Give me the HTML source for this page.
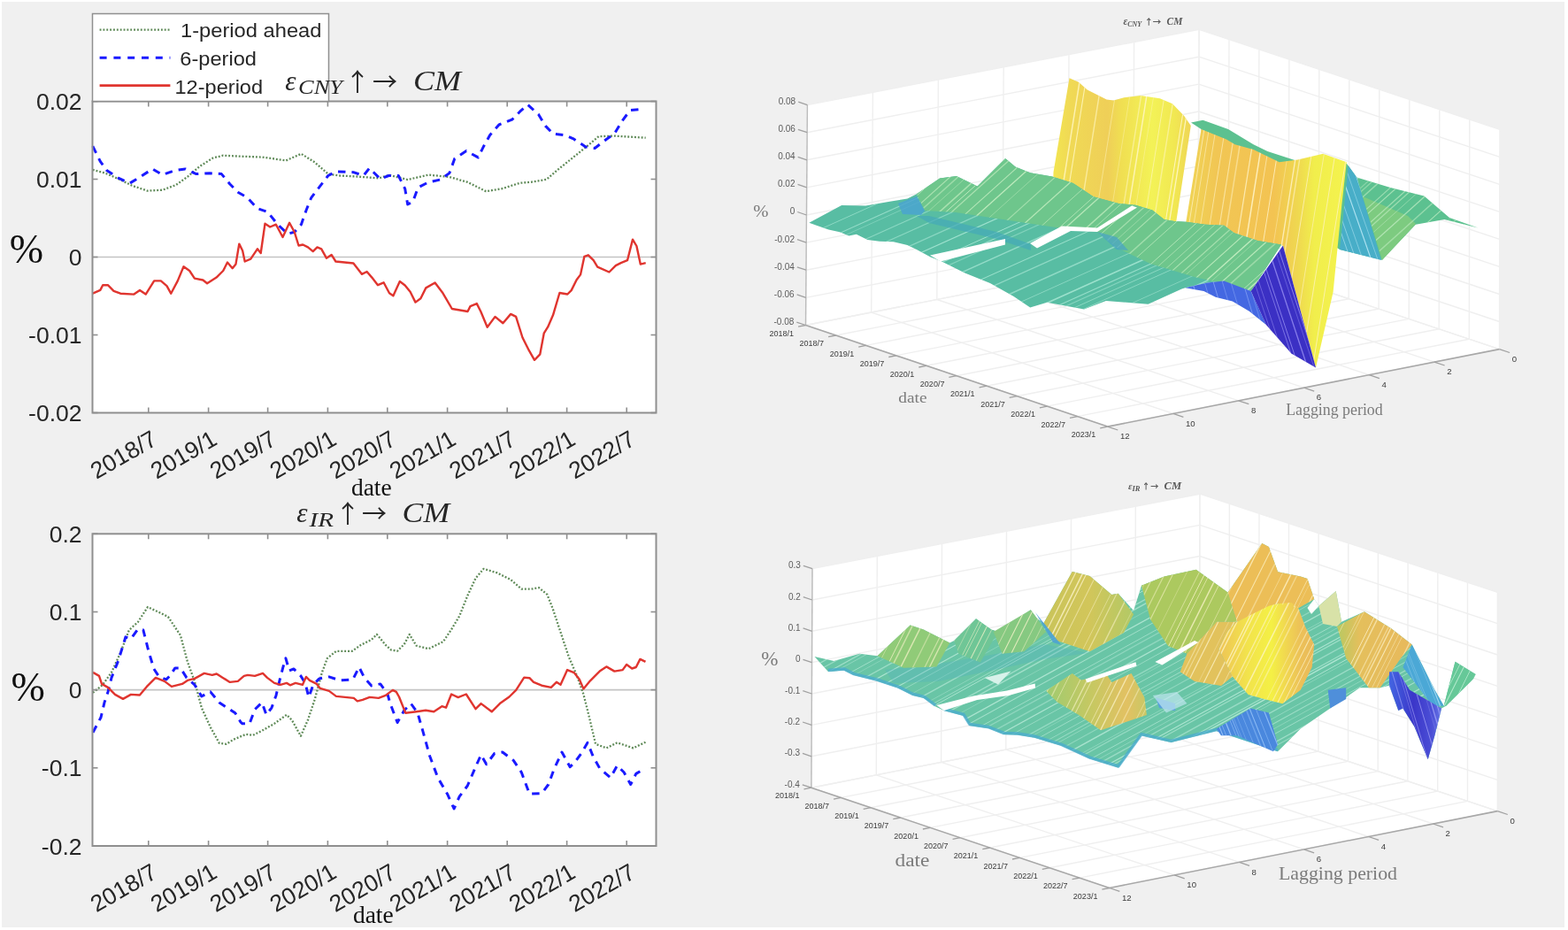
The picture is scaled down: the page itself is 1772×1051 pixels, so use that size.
<!DOCTYPE html><html><head><meta charset="utf-8"><title>Impulse responses</title><style>html,body{margin:0;padding:0;background:#fff;}svg{display:block;}.tk{font-family:"Liberation Sans",Arial,sans-serif;fill:#262626;}.sr{font-family:"Liberation Serif","Times New Roman",serif;}</style></head><body>
<svg width="1772" height="1051" viewBox="0 0 1772 1051">
<rect x="0" y="0" width="1772" height="1051" fill="#ffffff"/>
<rect x="2" y="2" width="1766" height="1046" fill="#f0f0f0"/>
<rect x="104.5" y="114.5" width="637.0" height="352.0" fill="#fff"/>
<line x1="104.5" y1="290.5" x2="741.5" y2="290.5" stroke="#c4c4c4" stroke-width="1.6"/>
<polyline points="104.8,191.9 119.0,195.7 134.2,202.3 149.5,209.9 166.6,215.6 183.7,214.7 198.9,209.0 212.3,199.5 225.6,188.0 240.8,178.5 252.2,175.7 270.0,176.6 296.6,177.6 323.3,181.4 340.4,173.8 355.6,183.3 370.8,196.6 384.2,198.5 403.2,199.5 427.9,201.4 440.0,197.9 460.7,203.0 484.3,197.6 507.9,200.0 528.5,205.9 549.2,216.2 566.9,213.3 587.5,206.8 600.0,205.8 617.7,202.8 629.5,192.5 644.2,180.7 658.9,168.9 676.6,154.2 694.3,153.6 729.7,155.7" fill="none" stroke="#5f8a58" stroke-width="2.3" stroke-dasharray="1.9 1.95" stroke-linejoin="round"/>
<polyline points="104.8,165.2 113.3,182.3 120.9,192.8 134.2,201.4 146.6,207.1 159.0,199.5 172.3,190.9 183.7,197.6 197.0,192.8 209.4,190.9 221.8,196.6 237.0,195.7 250.3,196.6 259.8,208.0 269.3,217.5 279.5,223.3 290.9,235.6 302.3,239.4 313.8,253.7 325.2,264.2 332.8,262.3 340.4,253.7 346.1,237.5 351.8,223.3 361.3,210.9 370.8,198.5 380.3,193.8 399.4,194.7 410.8,198.5 417.5,190.0 422.2,194.7 429.8,202.3 439.3,198.5 450.3,198.5 457.7,213.3 460.7,231.0 466.6,228.0 472.5,211.8 484.3,205.9 497.5,203.0 507.9,195.6 513.8,179.3 527.0,170.5 540.3,177.9 546.2,166.1 553.6,152.8 563.9,141.0 578.7,135.1 587.5,126.2 596.4,118.3 608.5,129.2 616.5,142.4 625.0,151.3 638.3,152.7 648.6,157.2 661.9,166.0 672.2,167.5 685.5,157.2 694.3,151.3 703.2,136.5 712.0,124.7 726.7,123.3" fill="none" stroke="#1a1aff" stroke-width="3" stroke-dasharray="8.5 7" stroke-linejoin="round"/>
<polyline points="104.8,331.7 113.3,327.9 116.2,322.2 121.9,322.2 128.5,328.8 136.1,331.7 151.4,332.6 158.0,327.9 164.7,332.6 174.2,317.4 181.8,317.4 188.5,323.1 193.2,331.7 200.8,317.4 207.5,301.3 214.2,306.0 219.9,314.6 229.4,316.5 234.1,320.3 244.6,313.6 252.2,306.0 257.0,296.5 262.7,303.2 266.5,298.4 270.3,275.6 274.1,283.2 276.7,295.5 283.3,292.7 290.9,281.3 294.7,286.0 299.5,252.7 305.2,256.5 311.9,253.7 319.5,268.0 327.1,251.8 332.8,262.3 337.5,277.5 342.3,276.5 348.0,279.4 353.7,284.1 358.5,279.4 363.2,281.3 368.9,291.7 374.6,287.9 379.4,295.5 399.4,297.5 408.9,309.8 414.6,307.0 420.3,313.6 427.0,322.2 433.6,319.3 440.0,331.3 444.4,334.3 451.8,318.0 457.7,322.5 463.6,329.8 469.5,341.6 475.4,337.2 481.3,325.4 491.6,319.5 500.5,331.3 510.8,349.0 519.7,350.5 528.5,352.0 531.5,346.1 538.8,343.1 543.3,352.0 550.7,369.7 559.5,357.9 568.4,365.2 577.2,354.9 583.1,357.9 590.5,381.5 597.9,396.2 604.0,406.8 610.3,400.3 614.7,376.7 619.2,369.4 625.0,356.1 632.4,331.0 641.3,332.5 645.7,328.1 651.6,316.3 656.0,310.4 660.4,289.8 664.8,288.3 670.7,294.2 675.2,301.6 688.4,307.5 695.8,300.1 701.7,297.1 709.0,294.2 715.0,270.6 719.4,278.0 723.8,298.6 729.7,297.1" fill="none" stroke="#e0352f" stroke-width="2.4" stroke-linejoin="round"/>
<line x1="167.8" y1="466.5" x2="167.8" y2="460.5" stroke="#8f8f8f" stroke-width="1.6"/>
<line x1="167.8" y1="114.5" x2="167.8" y2="120.5" stroke="#8f8f8f" stroke-width="1.6"/>
<line x1="235.6" y1="466.5" x2="235.6" y2="460.5" stroke="#8f8f8f" stroke-width="1.6"/>
<line x1="235.6" y1="114.5" x2="235.6" y2="120.5" stroke="#8f8f8f" stroke-width="1.6"/>
<line x1="302.6" y1="466.5" x2="302.6" y2="460.5" stroke="#8f8f8f" stroke-width="1.6"/>
<line x1="302.6" y1="114.5" x2="302.6" y2="120.5" stroke="#8f8f8f" stroke-width="1.6"/>
<line x1="370.4" y1="466.5" x2="370.4" y2="460.5" stroke="#8f8f8f" stroke-width="1.6"/>
<line x1="370.4" y1="114.5" x2="370.4" y2="120.5" stroke="#8f8f8f" stroke-width="1.6"/>
<line x1="437.8" y1="466.5" x2="437.8" y2="460.5" stroke="#8f8f8f" stroke-width="1.6"/>
<line x1="437.8" y1="114.5" x2="437.8" y2="120.5" stroke="#8f8f8f" stroke-width="1.6"/>
<line x1="505.6" y1="466.5" x2="505.6" y2="460.5" stroke="#8f8f8f" stroke-width="1.6"/>
<line x1="505.6" y1="114.5" x2="505.6" y2="120.5" stroke="#8f8f8f" stroke-width="1.6"/>
<line x1="573.2" y1="466.5" x2="573.2" y2="460.5" stroke="#8f8f8f" stroke-width="1.6"/>
<line x1="573.2" y1="114.5" x2="573.2" y2="120.5" stroke="#8f8f8f" stroke-width="1.6"/>
<line x1="640.6" y1="466.5" x2="640.6" y2="460.5" stroke="#8f8f8f" stroke-width="1.6"/>
<line x1="640.6" y1="114.5" x2="640.6" y2="120.5" stroke="#8f8f8f" stroke-width="1.6"/>
<line x1="708.2" y1="466.5" x2="708.2" y2="460.5" stroke="#8f8f8f" stroke-width="1.6"/>
<line x1="708.2" y1="114.5" x2="708.2" y2="120.5" stroke="#8f8f8f" stroke-width="1.6"/>
<line x1="104.5" y1="114.5" x2="110.5" y2="114.5" stroke="#8f8f8f" stroke-width="1.6"/>
<line x1="741.5" y1="114.5" x2="735.5" y2="114.5" stroke="#8f8f8f" stroke-width="1.6"/>
<text class="tk" x="92.5" y="124.0" font-size="26.5" text-anchor="end">0.02</text>
<line x1="104.5" y1="202.5" x2="110.5" y2="202.5" stroke="#8f8f8f" stroke-width="1.6"/>
<line x1="741.5" y1="202.5" x2="735.5" y2="202.5" stroke="#8f8f8f" stroke-width="1.6"/>
<text class="tk" x="92.5" y="212.0" font-size="26.5" text-anchor="end">0.01</text>
<line x1="104.5" y1="290.5" x2="110.5" y2="290.5" stroke="#8f8f8f" stroke-width="1.6"/>
<line x1="741.5" y1="290.5" x2="735.5" y2="290.5" stroke="#8f8f8f" stroke-width="1.6"/>
<text class="tk" x="92.5" y="300.0" font-size="26.5" text-anchor="end">0</text>
<line x1="104.5" y1="378.5" x2="110.5" y2="378.5" stroke="#8f8f8f" stroke-width="1.6"/>
<line x1="741.5" y1="378.5" x2="735.5" y2="378.5" stroke="#8f8f8f" stroke-width="1.6"/>
<text class="tk" x="92.5" y="388.0" font-size="26.5" text-anchor="end">-0.01</text>
<line x1="104.5" y1="466.5" x2="110.5" y2="466.5" stroke="#8f8f8f" stroke-width="1.6"/>
<line x1="741.5" y1="466.5" x2="735.5" y2="466.5" stroke="#8f8f8f" stroke-width="1.6"/>
<text class="tk" x="92.5" y="476.0" font-size="26.5" text-anchor="end">-0.02</text>
<rect x="104.5" y="114.5" width="637.0" height="352.0" fill="none" stroke="#8f8f8f" stroke-width="2"/>
<text class="tk" font-size="26.5" text-anchor="end" transform="translate(179.3,501.5) rotate(-30)">2018/7</text>
<text class="tk" font-size="26.5" text-anchor="end" transform="translate(247.1,501.5) rotate(-30)">2019/1</text>
<text class="tk" font-size="26.5" text-anchor="end" transform="translate(314.1,501.5) rotate(-30)">2019/7</text>
<text class="tk" font-size="26.5" text-anchor="end" transform="translate(381.9,501.5) rotate(-30)">2020/1</text>
<text class="tk" font-size="26.5" text-anchor="end" transform="translate(449.3,501.5) rotate(-30)">2020/7</text>
<text class="tk" font-size="26.5" text-anchor="end" transform="translate(517.1,501.5) rotate(-30)">2021/1</text>
<text class="tk" font-size="26.5" text-anchor="end" transform="translate(584.7,501.5) rotate(-30)">2021/7</text>
<text class="tk" font-size="26.5" text-anchor="end" transform="translate(652.1,501.5) rotate(-30)">2022/1</text>
<text class="tk" font-size="26.5" text-anchor="end" transform="translate(719.7,501.5) rotate(-30)">2022/7</text>
<text class="sr" x="419.8" y="559.8" font-size="27.5" text-anchor="middle" fill="#111">date</text>
<text class="sr" x="29.8" y="297.3" font-size="46" text-anchor="middle" fill="#111">%</text>
<rect x="104.5" y="603.3" width="637.0" height="352.70000000000005" fill="#fff"/>
<line x1="104.5" y1="779.65" x2="741.5" y2="779.65" stroke="#c4c4c4" stroke-width="1.6"/>
<polyline points="105.0,782.9 116.0,773.9 126.0,759.9 136.0,737.9 145.9,712.0 155.9,703.0 166.9,686.0 179.9,692.0 189.9,697.0 203.9,717.9 211.9,747.9 219.9,769.9 227.8,799.8 237.8,821.8 247.8,839.8 255.8,840.8 263.8,835.8 278.0,829.8 286.0,830.8 296.0,825.8 310.0,817.8 323.9,807.8 329.9,813.8 339.9,831.8 347.9,813.8 355.9,789.9 363.9,759.9 369.9,743.9 379.9,735.9 397.8,735.9 407.8,728.9 419.8,722.9 425.8,716.9 435.8,728.9 442.0,734.5 449.1,735.7 456.8,728.1 462.8,716.9 470.5,729.7 484.2,733.3 500.9,725.1 510.1,711.4 519.2,696.2 528.3,673.3 537.5,653.5 546.6,642.8 561.8,647.4 577.1,655.0 589.3,665.7 600.0,665.7 609.1,664.2 618.3,671.8 624.4,687.0 633.5,714.4 642.6,741.8 651.8,763.2 659.4,784.5 665.5,808.9 673.1,840.8 685.3,845.4 697.5,839.3 715.7,845.4 729.5,838.7" fill="none" stroke="#5f8a58" stroke-width="2.3" stroke-dasharray="1.9 1.95" stroke-linejoin="round"/>
<polyline points="105.0,827.8 114.0,810.8 118.0,793.9 122.0,781.9 126.0,765.9 134.0,745.9 141.9,719.9 147.9,721.9 155.9,711.0 161.9,712.0 167.9,735.9 173.9,755.9 179.9,764.9 187.9,767.9 191.9,763.9 197.9,754.9 203.9,754.9 210.9,765.9 219.9,773.9 227.8,786.9 237.8,781.9 247.8,793.9 265.8,805.8 271.8,815.8 274.0,817.8 282.0,817.8 288.0,801.8 296.0,793.9 301.0,807.8 307.0,799.8 312.0,785.9 316.0,768.9 319.9,753.9 322.9,743.9 326.9,757.9 331.9,755.9 339.9,763.9 344.9,771.9 348.9,787.9 353.9,773.9 360.9,766.9 371.9,764.9 383.9,768.9 398.8,767.9 405.8,753.9 411.8,765.9 419.8,774.9 429.8,772.9 437.8,783.9 441.0,795.1 449.1,816.5 456.8,802.8 464.4,795.1 472.0,805.8 478.1,827.1 485.7,854.5 494.8,878.9 505.5,897.2 513.1,913.9 519.2,900.2 528.3,888.0 537.5,866.7 543.6,853.0 549.7,863.7 558.8,851.5 567.9,850.0 580.1,859.1 589.3,872.8 598.4,897.2 612.2,896.6 619.8,886.5 625.9,869.8 635.0,850.0 644.2,866.7 650.3,860.6 657.9,850.0 664.0,839.3 670.1,854.5 677.7,868.2 689.9,878.9 697.5,865.2 705.1,872.8 712.7,886.5 718.8,874.4 726.4,869.8" fill="none" stroke="#1a1aff" stroke-width="3" stroke-dasharray="8.5 7" stroke-linejoin="round"/>
<polyline points="105.0,759.9 112.0,763.9 115.0,772.9 122.0,776.9 130.0,784.9 139.0,789.9 147.9,784.9 157.9,785.5 165.9,775.9 175.9,765.9 185.9,769.9 193.9,775.9 205.9,772.9 211.9,768.9 219.9,766.9 230.8,760.9 239.8,762.9 244.8,761.5 251.8,765.9 259.8,770.9 268.8,769.9 275.8,763.9 280.0,762.9 288.0,763.9 297.0,760.9 302.0,765.9 310.0,771.9 316.9,773.9 323.9,771.9 327.9,774.3 333.9,771.9 341.9,773.9 345.9,764.9 349.9,768.9 357.9,772.9 361.9,777.9 371.9,780.9 379.9,786.9 389.9,787.9 399.8,788.9 403.8,792.3 409.8,790.9 417.8,787.9 427.8,788.9 435.8,785.9 443.8,779.9 447.8,781.9 451.0,787.5 458.3,805.8 470.5,804.3 481.1,802.8 490.3,804.3 499.4,798.2 504.0,799.7 510.1,784.5 517.7,788.1 526.8,784.5 537.5,801.2 543.6,795.1 555.7,804.3 564.9,795.1 575.5,787.5 583.2,779.9 592.3,765.6 598.4,766.2 603.0,770.8 612.2,774.7 622.8,776.9 628.9,770.8 633.5,773.8 641.1,757.1 648.7,760.1 654.8,767.7 659.4,778.4 667.0,769.3 677.7,758.6 685.3,753.4 694.4,758.6 703.6,757.1 708.1,751.0 714.2,755.5 718.8,754.0 723.4,744.9 729.5,747.9" fill="none" stroke="#e0352f" stroke-width="2.4" stroke-linejoin="round"/>
<line x1="167.8" y1="956.0" x2="167.8" y2="950.0" stroke="#8f8f8f" stroke-width="1.6"/>
<line x1="167.8" y1="603.3" x2="167.8" y2="609.3" stroke="#8f8f8f" stroke-width="1.6"/>
<line x1="235.6" y1="956.0" x2="235.6" y2="950.0" stroke="#8f8f8f" stroke-width="1.6"/>
<line x1="235.6" y1="603.3" x2="235.6" y2="609.3" stroke="#8f8f8f" stroke-width="1.6"/>
<line x1="302.6" y1="956.0" x2="302.6" y2="950.0" stroke="#8f8f8f" stroke-width="1.6"/>
<line x1="302.6" y1="603.3" x2="302.6" y2="609.3" stroke="#8f8f8f" stroke-width="1.6"/>
<line x1="370.4" y1="956.0" x2="370.4" y2="950.0" stroke="#8f8f8f" stroke-width="1.6"/>
<line x1="370.4" y1="603.3" x2="370.4" y2="609.3" stroke="#8f8f8f" stroke-width="1.6"/>
<line x1="437.8" y1="956.0" x2="437.8" y2="950.0" stroke="#8f8f8f" stroke-width="1.6"/>
<line x1="437.8" y1="603.3" x2="437.8" y2="609.3" stroke="#8f8f8f" stroke-width="1.6"/>
<line x1="505.6" y1="956.0" x2="505.6" y2="950.0" stroke="#8f8f8f" stroke-width="1.6"/>
<line x1="505.6" y1="603.3" x2="505.6" y2="609.3" stroke="#8f8f8f" stroke-width="1.6"/>
<line x1="573.2" y1="956.0" x2="573.2" y2="950.0" stroke="#8f8f8f" stroke-width="1.6"/>
<line x1="573.2" y1="603.3" x2="573.2" y2="609.3" stroke="#8f8f8f" stroke-width="1.6"/>
<line x1="640.6" y1="956.0" x2="640.6" y2="950.0" stroke="#8f8f8f" stroke-width="1.6"/>
<line x1="640.6" y1="603.3" x2="640.6" y2="609.3" stroke="#8f8f8f" stroke-width="1.6"/>
<line x1="708.2" y1="956.0" x2="708.2" y2="950.0" stroke="#8f8f8f" stroke-width="1.6"/>
<line x1="708.2" y1="603.3" x2="708.2" y2="609.3" stroke="#8f8f8f" stroke-width="1.6"/>
<line x1="104.5" y1="603.3" x2="110.5" y2="603.3" stroke="#8f8f8f" stroke-width="1.6"/>
<line x1="741.5" y1="603.3" x2="735.5" y2="603.3" stroke="#8f8f8f" stroke-width="1.6"/>
<text class="tk" x="92.5" y="612.8" font-size="26.5" text-anchor="end">0.2</text>
<line x1="104.5" y1="691.5" x2="110.5" y2="691.5" stroke="#8f8f8f" stroke-width="1.6"/>
<line x1="741.5" y1="691.5" x2="735.5" y2="691.5" stroke="#8f8f8f" stroke-width="1.6"/>
<text class="tk" x="92.5" y="701.0" font-size="26.5" text-anchor="end">0.1</text>
<line x1="104.5" y1="779.6" x2="110.5" y2="779.6" stroke="#8f8f8f" stroke-width="1.6"/>
<line x1="741.5" y1="779.6" x2="735.5" y2="779.6" stroke="#8f8f8f" stroke-width="1.6"/>
<text class="tk" x="92.5" y="789.1" font-size="26.5" text-anchor="end">0</text>
<line x1="104.5" y1="867.8" x2="110.5" y2="867.8" stroke="#8f8f8f" stroke-width="1.6"/>
<line x1="741.5" y1="867.8" x2="735.5" y2="867.8" stroke="#8f8f8f" stroke-width="1.6"/>
<text class="tk" x="92.5" y="877.3" font-size="26.5" text-anchor="end">-0.1</text>
<line x1="104.5" y1="956.0" x2="110.5" y2="956.0" stroke="#8f8f8f" stroke-width="1.6"/>
<line x1="741.5" y1="956.0" x2="735.5" y2="956.0" stroke="#8f8f8f" stroke-width="1.6"/>
<text class="tk" x="92.5" y="965.5" font-size="26.5" text-anchor="end">-0.2</text>
<rect x="104.5" y="603.3" width="637.0" height="352.70000000000005" fill="none" stroke="#8f8f8f" stroke-width="2"/>
<text class="tk" font-size="26.5" text-anchor="end" transform="translate(179.3,991.0) rotate(-30)">2018/7</text>
<text class="tk" font-size="26.5" text-anchor="end" transform="translate(247.1,991.0) rotate(-30)">2019/1</text>
<text class="tk" font-size="26.5" text-anchor="end" transform="translate(314.1,991.0) rotate(-30)">2019/7</text>
<text class="tk" font-size="26.5" text-anchor="end" transform="translate(381.9,991.0) rotate(-30)">2020/1</text>
<text class="tk" font-size="26.5" text-anchor="end" transform="translate(449.3,991.0) rotate(-30)">2020/7</text>
<text class="tk" font-size="26.5" text-anchor="end" transform="translate(517.1,991.0) rotate(-30)">2021/1</text>
<text class="tk" font-size="26.5" text-anchor="end" transform="translate(584.7,991.0) rotate(-30)">2021/7</text>
<text class="tk" font-size="26.5" text-anchor="end" transform="translate(652.1,991.0) rotate(-30)">2022/1</text>
<text class="tk" font-size="26.5" text-anchor="end" transform="translate(719.7,991.0) rotate(-30)">2022/7</text>
<text class="sr" x="421.8" y="1043" font-size="27.5" text-anchor="middle" fill="#111">date</text>
<text class="sr" x="31.6" y="791.6" font-size="46" text-anchor="middle" fill="#111">%</text>
<rect x="104.5" y="15.5" width="267" height="99" fill="#fff" stroke="#8f8f8f" stroke-width="1.5"/>
<line x1="112.6" y1="33.7" x2="192.4" y2="33.7" stroke="#5f8a58" stroke-width="2.3" stroke-dasharray="1.9 1.95"/>
<line x1="112.6" y1="65.3" x2="192.4" y2="65.3" stroke="#1a1aff" stroke-width="3" stroke-dasharray="8 7.8"/>
<line x1="112.6" y1="96.6" x2="192.4" y2="96.6" stroke="#e0352f" stroke-width="2.6"/>
<text class="tk" x="204" y="42.4" font-size="22.6" textLength="159.5" lengthAdjust="spacingAndGlyphs">1-period ahead</text>
<text class="tk" x="203.3" y="74" font-size="22.6" textLength="86.6" lengthAdjust="spacingAndGlyphs">6-period</text>
<text class="tk" x="197.5" y="105.6" font-size="22.6" textLength="99.6" lengthAdjust="spacingAndGlyphs">12-period</text>
<text x="322.2" y="101.8" font-family='"Liberation Serif",serif' font-size="31" fill="#262626" font-style="italic">ε</text>
<text x="337" y="105.9" font-family='"Liberation Serif",serif' font-size="23.5" fill="#262626" font-style="italic" textLength="50" lengthAdjust="spacingAndGlyphs">CNY</text>
<text x="390" y="102.5" font-family='"Noto Sans CJK SC",sans-serif' font-size="28" fill="#262626">↑</text>
<text x="421" y="102.5" font-family='"Noto Sans CJK SC",sans-serif' font-size="28" fill="#262626">→</text>
<text x="467" y="101.8" font-family='"Liberation Serif",serif' font-size="31.5" fill="#262626" font-style="italic" textLength="54" lengthAdjust="spacingAndGlyphs">CM</text>
<text x="335.3" y="589.8" font-family='"Liberation Serif",serif' font-size="31" fill="#262626" font-style="italic">ε</text>
<text x="349.5" y="594.7" font-family='"Liberation Serif",serif' font-size="23.5" fill="#262626" font-style="italic" textLength="27.5" lengthAdjust="spacingAndGlyphs">IR</text>
<text x="379" y="591.3" font-family='"Noto Sans CJK SC",sans-serif' font-size="28" fill="#262626">↑</text>
<text x="409" y="591.3" font-family='"Noto Sans CJK SC",sans-serif' font-size="28" fill="#262626">→</text>
<text x="454.6" y="589.8" font-family='"Liberation Serif",serif' font-size="31.5" fill="#262626" font-style="italic" textLength="53.5" lengthAdjust="spacingAndGlyphs">CM</text>
<polygon points="910.5,367.5 912.4,118.6 1355.1,33.3 1354.0,280.8" fill="#fff"/>
<polygon points="1354.0,280.8 1355.1,33.3 1694.9,146.3 1694.5,394.6" fill="#fff"/>
<polygon points="910.5,367.5 1354.0,280.8 1694.5,394.6 1251.7,482.1" fill="#fff"/>
<line x1="910.5" y1="367.5" x2="1354.0" y2="280.8" stroke="#efefef" stroke-width="1.4"/>
<line x1="1354.0" y1="280.8" x2="1694.5" y2="394.6" stroke="#efefef" stroke-width="1.4"/>
<line x1="910.8" y1="336.4" x2="1354.1" y2="249.8" stroke="#efefef" stroke-width="1.4"/>
<line x1="1354.1" y1="249.8" x2="1694.5" y2="363.5" stroke="#efefef" stroke-width="1.4"/>
<line x1="911.0" y1="305.2" x2="1354.3" y2="218.8" stroke="#efefef" stroke-width="1.4"/>
<line x1="1354.3" y1="218.8" x2="1694.6" y2="332.5" stroke="#efefef" stroke-width="1.4"/>
<line x1="911.2" y1="274.1" x2="1354.4" y2="187.9" stroke="#efefef" stroke-width="1.4"/>
<line x1="1354.4" y1="187.9" x2="1694.6" y2="301.4" stroke="#efefef" stroke-width="1.4"/>
<line x1="911.4" y1="243.0" x2="1354.5" y2="156.9" stroke="#efefef" stroke-width="1.4"/>
<line x1="1354.5" y1="156.9" x2="1694.7" y2="270.4" stroke="#efefef" stroke-width="1.4"/>
<line x1="911.7" y1="211.9" x2="1354.7" y2="126.0" stroke="#efefef" stroke-width="1.4"/>
<line x1="1354.7" y1="126.0" x2="1694.7" y2="239.3" stroke="#efefef" stroke-width="1.4"/>
<line x1="911.9" y1="180.8" x2="1354.8" y2="95.1" stroke="#efefef" stroke-width="1.4"/>
<line x1="1354.8" y1="95.1" x2="1694.8" y2="208.3" stroke="#efefef" stroke-width="1.4"/>
<line x1="912.1" y1="149.7" x2="1354.9" y2="64.2" stroke="#efefef" stroke-width="1.4"/>
<line x1="1354.9" y1="64.2" x2="1694.8" y2="177.3" stroke="#efefef" stroke-width="1.4"/>
<line x1="912.4" y1="118.6" x2="1355.1" y2="33.3" stroke="#efefef" stroke-width="1.4"/>
<line x1="1355.1" y1="33.3" x2="1694.9" y2="146.3" stroke="#efefef" stroke-width="1.4"/>
<line x1="1354.0" y1="280.8" x2="1355.1" y2="33.3" stroke="#efefef" stroke-width="1.4"/>
<line x1="1354.0" y1="280.8" x2="910.5" y2="367.5" stroke="#efefef" stroke-width="1.4"/>
<line x1="1388.0" y1="292.2" x2="1389.0" y2="44.5" stroke="#efefef" stroke-width="1.4"/>
<line x1="1388.0" y1="292.2" x2="944.6" y2="379.0" stroke="#efefef" stroke-width="1.4"/>
<line x1="1422.0" y1="303.5" x2="1422.9" y2="55.8" stroke="#efefef" stroke-width="1.4"/>
<line x1="1422.0" y1="303.5" x2="978.6" y2="390.4" stroke="#efefef" stroke-width="1.4"/>
<line x1="1456.0" y1="314.9" x2="1456.9" y2="67.1" stroke="#efefef" stroke-width="1.4"/>
<line x1="1456.0" y1="314.9" x2="1012.7" y2="401.8" stroke="#efefef" stroke-width="1.4"/>
<line x1="1490.0" y1="326.3" x2="1490.8" y2="78.4" stroke="#efefef" stroke-width="1.4"/>
<line x1="1490.0" y1="326.3" x2="1046.8" y2="413.3" stroke="#efefef" stroke-width="1.4"/>
<line x1="1524.1" y1="337.7" x2="1524.8" y2="89.7" stroke="#efefef" stroke-width="1.4"/>
<line x1="1524.1" y1="337.7" x2="1080.9" y2="424.7" stroke="#efefef" stroke-width="1.4"/>
<line x1="1558.1" y1="349.0" x2="1558.8" y2="101.0" stroke="#efefef" stroke-width="1.4"/>
<line x1="1558.1" y1="349.0" x2="1115.0" y2="436.2" stroke="#efefef" stroke-width="1.4"/>
<line x1="1592.2" y1="360.4" x2="1592.8" y2="112.4" stroke="#efefef" stroke-width="1.4"/>
<line x1="1592.2" y1="360.4" x2="1149.2" y2="447.7" stroke="#efefef" stroke-width="1.4"/>
<line x1="1626.2" y1="371.8" x2="1626.8" y2="123.7" stroke="#efefef" stroke-width="1.4"/>
<line x1="1626.2" y1="371.8" x2="1183.3" y2="459.1" stroke="#efefef" stroke-width="1.4"/>
<line x1="1660.3" y1="383.2" x2="1660.8" y2="135.0" stroke="#efefef" stroke-width="1.4"/>
<line x1="1660.3" y1="383.2" x2="1217.5" y2="470.6" stroke="#efefef" stroke-width="1.4"/>
<line x1="1694.5" y1="394.6" x2="1694.9" y2="146.3" stroke="#efefef" stroke-width="1.4"/>
<line x1="1694.5" y1="394.6" x2="1251.7" y2="482.1" stroke="#efefef" stroke-width="1.4"/>
<line x1="1354.0" y1="280.8" x2="1355.1" y2="33.3" stroke="#efefef" stroke-width="1.4"/>
<line x1="1354.0" y1="280.8" x2="1694.5" y2="394.6" stroke="#efefef" stroke-width="1.4"/>
<line x1="1280.4" y1="295.2" x2="1281.6" y2="47.4" stroke="#efefef" stroke-width="1.4"/>
<line x1="1280.4" y1="295.2" x2="1621.0" y2="409.1" stroke="#efefef" stroke-width="1.4"/>
<line x1="1206.7" y1="309.6" x2="1208.0" y2="61.6" stroke="#efefef" stroke-width="1.4"/>
<line x1="1206.7" y1="309.6" x2="1547.3" y2="423.7" stroke="#efefef" stroke-width="1.4"/>
<line x1="1132.8" y1="324.1" x2="1134.2" y2="75.8" stroke="#efefef" stroke-width="1.4"/>
<line x1="1132.8" y1="324.1" x2="1473.6" y2="438.2" stroke="#efefef" stroke-width="1.4"/>
<line x1="1058.8" y1="338.5" x2="1060.4" y2="90.1" stroke="#efefef" stroke-width="1.4"/>
<line x1="1058.8" y1="338.5" x2="1399.7" y2="452.8" stroke="#efefef" stroke-width="1.4"/>
<line x1="984.7" y1="353.0" x2="986.4" y2="104.3" stroke="#efefef" stroke-width="1.4"/>
<line x1="984.7" y1="353.0" x2="1325.8" y2="467.4" stroke="#efefef" stroke-width="1.4"/>
<line x1="910.5" y1="367.5" x2="912.4" y2="118.6" stroke="#efefef" stroke-width="1.4"/>
<line x1="910.5" y1="367.5" x2="1251.7" y2="482.1" stroke="#efefef" stroke-width="1.4"/>
<defs><linearGradient id="yw1" x1="1189" y1="0" x2="1346" y2="0" gradientUnits="userSpaceOnUse"><stop offset="0" stop-color="#f3e650"/><stop offset="0.12" stop-color="#f0da55"/><stop offset="0.4" stop-color="#efcf58"/><stop offset="0.5" stop-color="#f0df52"/><stop offset="0.72" stop-color="#f3f257"/><stop offset="0.88" stop-color="#f1e852"/><stop offset="1" stop-color="#efd556"/></linearGradient><linearGradient id="yw2" x1="1338" y1="0" x2="1522" y2="0" gradientUnits="userSpaceOnUse"><stop offset="0" stop-color="#f0d655"/><stop offset="0.2" stop-color="#f1c654"/><stop offset="0.55" stop-color="#f3c352"/><stop offset="0.7" stop-color="#efd850"/><stop offset="0.8" stop-color="#f1ee4c"/><stop offset="1" stop-color="#f4f34e"/></linearGradient></defs>
<polygon points="1346.0,138.5 1359.4,135.7 1388.0,146.1 1416.5,163.3 1432.4,170.9 1464.7,181.4 1495.0,176.0 1522.0,185.0 1533.3,200.4 1571.3,211.9 1609.4,221.4 1638.0,246.1 1670.3,257.5 1632.3,248.0 1599.9,253.7 1561.8,293.7 1514.0,282.0 1480.0,260.0 1365.0,240.0 1357.5,146.1" fill="#5cc190" />
<polygon points="1540.0,222.0 1591.0,244.0 1600.0,253.0 1562.0,294.0" fill="#7dcb80" />
<clipPath id="c1"><polygon points="1533.0,200.0 1571.0,212.0 1609.0,221.0 1638.0,246.0 1670.0,257.5 1632.0,248.0 1600.0,254.0 1562.0,294.0"/></clipPath><g clip-path="url(#c1)" stroke="#c8f0c8" fill="none"><line x1="1425.4" y1="299.7" x2="1672.4" y2="77.4" stroke-width="1.14" stroke-opacity="0.51"/><line x1="1432.2" y1="307.3" x2="1679.2" y2="85.0" stroke-width="1.21" stroke-opacity="0.41"/><line x1="1434.5" y1="309.8" x2="1681.4" y2="87.5" stroke-width="1.40" stroke-opacity="0.47"/><line x1="1438.4" y1="314.1" x2="1685.4" y2="91.8" stroke-width="1.54" stroke-opacity="0.54"/><line x1="1447.1" y1="323.8" x2="1694.0" y2="101.5" stroke-width="1.08" stroke-opacity="0.60"/><line x1="1450.3" y1="327.4" x2="1697.3" y2="105.1" stroke-width="1.22" stroke-opacity="0.67"/><line x1="1456.5" y1="334.3" x2="1703.5" y2="112.0" stroke-width="1.31" stroke-opacity="0.61"/><line x1="1459.1" y1="337.2" x2="1706.1" y2="114.9" stroke-width="1.33" stroke-opacity="0.58"/><line x1="1463.6" y1="342.2" x2="1710.6" y2="119.9" stroke-width="0.69" stroke-opacity="0.67"/><line x1="1469.4" y1="348.6" x2="1716.4" y2="126.3" stroke-width="1.29" stroke-opacity="0.68"/><line x1="1477.1" y1="357.2" x2="1724.1" y2="134.9" stroke-width="1.47" stroke-opacity="0.52"/><line x1="1485.5" y1="366.5" x2="1732.5" y2="144.2" stroke-width="1.05" stroke-opacity="0.69"/><line x1="1494.5" y1="376.5" x2="1741.5" y2="154.2" stroke-width="0.75" stroke-opacity="0.43"/><line x1="1498.3" y1="380.7" x2="1745.3" y2="158.4" stroke-width="1.51" stroke-opacity="0.53"/><line x1="1505.3" y1="388.5" x2="1752.3" y2="166.2" stroke-width="0.92" stroke-opacity="0.55"/><line x1="1510.4" y1="394.2" x2="1757.4" y2="171.9" stroke-width="0.97" stroke-opacity="0.58"/><line x1="1517.1" y1="401.6" x2="1764.1" y2="179.3" stroke-width="1.46" stroke-opacity="0.61"/><line x1="1526.5" y1="412.0" x2="1773.5" y2="189.7" stroke-width="1.41" stroke-opacity="0.71"/></g>
<polygon points="1523.7,187.0 1533.3,200.4 1561.0,294.0 1514.0,282.0" fill="#48aec8" />
<clipPath id="c2"><polygon points="1523.7,187.0 1533.3,200.4 1561.0,294.0 1514.0,282.0"/></clipPath><g clip-path="url(#c2)" stroke="#d0f4ff" fill="none"><line x1="1535.2" y1="117.5" x2="1612.4" y2="338.1" stroke-width="0.68" stroke-opacity="0.56"/><line x1="1532.0" y1="118.6" x2="1609.3" y2="339.2" stroke-width="0.65" stroke-opacity="0.56"/><line x1="1523.3" y1="121.6" x2="1600.5" y2="342.3" stroke-width="1.24" stroke-opacity="0.70"/><line x1="1519.7" y1="122.9" x2="1596.9" y2="343.5" stroke-width="1.03" stroke-opacity="0.52"/><line x1="1516.4" y1="124.1" x2="1593.7" y2="344.7" stroke-width="0.68" stroke-opacity="0.50"/><line x1="1507.6" y1="127.1" x2="1584.8" y2="347.7" stroke-width="1.26" stroke-opacity="0.71"/><line x1="1499.8" y1="129.9" x2="1577.0" y2="350.5" stroke-width="0.75" stroke-opacity="0.53"/><line x1="1493.2" y1="132.2" x2="1570.4" y2="352.8" stroke-width="1.19" stroke-opacity="0.73"/><line x1="1484.7" y1="135.2" x2="1561.9" y2="355.8" stroke-width="0.67" stroke-opacity="0.64"/><line x1="1477.8" y1="137.6" x2="1555.0" y2="358.2" stroke-width="1.00" stroke-opacity="0.48"/><line x1="1472.3" y1="139.5" x2="1549.5" y2="360.1" stroke-width="0.67" stroke-opacity="0.76"/><line x1="1463.9" y1="142.4" x2="1541.2" y2="363.0" stroke-width="1.04" stroke-opacity="0.53"/></g>
<polygon points="1208.5,88.3 1218.9,92.7 1228.8,101.4 1250.6,112.4 1258.6,113.4 1270.3,110.2 1288.9,108.0 1310.8,111.3 1325.0,117.3 1338.2,131.0 1345.8,141.9 1329.0,252.0 1189.0,252.0 1190.5,194.4" fill="url(#yw1)" />
<clipPath id="c3"><polygon points="1208.5,88.3 1218.9,92.7 1228.8,101.4 1250.6,112.4 1258.6,113.4 1270.3,110.2 1288.9,108.0 1310.8,111.3 1325.0,117.3 1338.2,131.0 1345.8,141.9 1329.0,252.0 1189.0,252.0 1190.5,194.4"/></clipPath><g clip-path="url(#c3)" stroke="#fff6c0" fill="none"><line x1="1385.7" y1="-40.5" x2="1314.0" y2="407.2" stroke-width="1.31" stroke-opacity="0.88"/><line x1="1368.6" y1="-43.2" x2="1296.9" y2="404.4" stroke-width="1.31" stroke-opacity="0.94"/><line x1="1364.3" y1="-43.9" x2="1292.7" y2="403.8" stroke-width="1.07" stroke-opacity="0.95"/><line x1="1351.4" y1="-46.0" x2="1279.7" y2="401.7" stroke-width="1.45" stroke-opacity="0.58"/><line x1="1340.9" y1="-47.6" x2="1269.3" y2="400.0" stroke-width="0.88" stroke-opacity="0.77"/><line x1="1329.0" y1="-49.6" x2="1257.4" y2="398.1" stroke-width="0.67" stroke-opacity="0.62"/><line x1="1321.3" y1="-50.8" x2="1249.7" y2="396.9" stroke-width="1.47" stroke-opacity="0.87"/><line x1="1315.2" y1="-51.8" x2="1243.6" y2="395.9" stroke-width="1.36" stroke-opacity="0.59"/><line x1="1302.7" y1="-53.8" x2="1231.1" y2="393.9" stroke-width="0.77" stroke-opacity="0.53"/><line x1="1286.6" y1="-56.3" x2="1215.0" y2="391.3" stroke-width="0.84" stroke-opacity="0.62"/><line x1="1268.9" y1="-59.2" x2="1197.3" y2="388.5" stroke-width="1.43" stroke-opacity="0.66"/><line x1="1251.6" y1="-61.9" x2="1179.9" y2="385.7" stroke-width="1.13" stroke-opacity="0.83"/><line x1="1244.9" y1="-63.0" x2="1173.2" y2="384.6" stroke-width="1.49" stroke-opacity="0.84"/><line x1="1227.4" y1="-65.8" x2="1155.8" y2="381.9" stroke-width="1.45" stroke-opacity="0.66"/><line x1="1218.5" y1="-67.2" x2="1146.9" y2="380.4" stroke-width="0.81" stroke-opacity="0.59"/></g>
<polygon points="1357.5,146.1 1386.0,157.6 1395.6,163.3 1416.5,169.0 1445.7,183.3 1466.6,180.4 1495.2,173.8 1521.8,183.3 1516.5,230.0 1506.6,330.0 1487.0,415.6 1449.9,277.6 1338.5,262.0" fill="url(#yw2)" />
<clipPath id="c4"><polygon points="1357.5,146.1 1386.0,157.6 1395.6,163.3 1416.5,169.0 1445.7,183.3 1466.6,180.4 1495.2,173.8 1521.8,183.3 1516.5,230.0 1506.6,330.0 1487.0,415.6 1449.9,277.6 1338.5,262.0"/></clipPath><g clip-path="url(#c4)" stroke="#fff3c8" fill="none"><line x1="1584.2" y1="-24.6" x2="1481.2" y2="619.1" stroke-width="1.38" stroke-opacity="0.69"/><line x1="1577.4" y1="-25.7" x2="1474.4" y2="618.0" stroke-width="0.66" stroke-opacity="0.77"/><line x1="1567.9" y1="-27.2" x2="1464.9" y2="616.5" stroke-width="1.33" stroke-opacity="0.65"/><line x1="1554.5" y1="-29.3" x2="1451.6" y2="614.3" stroke-width="0.90" stroke-opacity="0.83"/><line x1="1541.7" y1="-31.4" x2="1438.7" y2="612.3" stroke-width="1.02" stroke-opacity="0.72"/><line x1="1529.5" y1="-33.3" x2="1426.5" y2="610.3" stroke-width="0.83" stroke-opacity="0.72"/><line x1="1515.7" y1="-35.5" x2="1412.7" y2="608.1" stroke-width="0.89" stroke-opacity="0.83"/><line x1="1503.5" y1="-37.5" x2="1400.5" y2="606.2" stroke-width="1.40" stroke-opacity="0.63"/><line x1="1498.8" y1="-38.2" x2="1395.8" y2="605.4" stroke-width="1.36" stroke-opacity="0.83"/><line x1="1489.6" y1="-39.7" x2="1386.6" y2="604.0" stroke-width="0.74" stroke-opacity="0.57"/><line x1="1478.0" y1="-41.6" x2="1375.0" y2="602.1" stroke-width="0.92" stroke-opacity="0.89"/><line x1="1467.0" y1="-43.3" x2="1364.0" y2="600.3" stroke-width="0.84" stroke-opacity="0.77"/><line x1="1458.9" y1="-44.6" x2="1356.0" y2="599.1" stroke-width="1.48" stroke-opacity="0.87"/><line x1="1448.9" y1="-46.2" x2="1345.9" y2="597.4" stroke-width="1.23" stroke-opacity="0.78"/><line x1="1435.1" y1="-48.4" x2="1332.1" y2="595.2" stroke-width="1.52" stroke-opacity="0.50"/><line x1="1427.0" y1="-49.7" x2="1324.0" y2="593.9" stroke-width="1.19" stroke-opacity="0.62"/><line x1="1416.0" y1="-51.5" x2="1313.0" y2="592.2" stroke-width="0.74" stroke-opacity="0.86"/><line x1="1405.8" y1="-53.1" x2="1302.8" y2="590.5" stroke-width="0.76" stroke-opacity="0.77"/><line x1="1398.3" y1="-54.3" x2="1295.3" y2="589.3" stroke-width="0.83" stroke-opacity="0.69"/><line x1="1393.1" y1="-55.2" x2="1290.1" y2="588.5" stroke-width="0.84" stroke-opacity="0.85"/><line x1="1380.7" y1="-57.1" x2="1277.7" y2="586.5" stroke-width="0.67" stroke-opacity="0.82"/><line x1="1377.0" y1="-57.7" x2="1274.0" y2="585.9" stroke-width="0.95" stroke-opacity="0.87"/></g>
<polygon points="914.4,251.8 951.1,231.9 978.3,232.4 1005.5,227.7 1025.4,224.5 1035.9,219.3 1062.0,201.5 1080.9,199.0 1104.6,210.4 1136.1,179.0 1147.5,188.6 1164.2,195.2 1189.0,199.4 1212.8,207.1 1235.7,222.3 1264.2,229.9 1283.3,231.8 1302.3,237.5 1315.6,248.0 1327.0,249.9 1340.4,250.8 1362.3,253.8 1383.3,254.7 1394.7,263.3 1421.3,271.9 1448.0,276.6 1413.7,329.0 1383.3,317.6 1364.2,319.5 1339.5,325.2 1335.5,326.6 1297.5,343.7 1249.9,339.9 1225.1,349.4 1183.3,341.8 1164.2,347.5 1145.6,335.1 1118.9,319.9 1090.4,308.5 1063.7,295.2 1051.6,290.5 1035.9,282.1 1025.4,276.9 1009.7,273.2 994.0,272.7 980.4,271.1 967.8,264.8 959.4,266.4 949.0,262.2 936.4,259.6" fill="#58bda3" />
<clipPath id="c5"><polygon points="914.4,251.8 951.1,231.9 978.3,232.4 1005.5,227.7 1025.4,224.5 1035.9,219.3 1062.0,201.5 1080.9,199.0 1104.6,210.4 1136.1,179.0 1147.5,188.6 1164.2,195.2 1189.0,199.4 1212.8,207.1 1235.7,222.3 1264.2,229.9 1283.3,231.8 1302.3,237.5 1315.6,248.0 1327.0,249.9 1340.4,250.8 1362.3,253.8 1383.3,254.7 1394.7,263.3 1421.3,271.9 1448.0,276.6 1413.7,329.0 1383.3,317.6 1364.2,319.5 1339.5,325.2 1335.5,326.6 1297.5,343.7 1249.9,339.9 1225.1,349.4 1183.3,341.8 1164.2,347.5 1145.6,335.1 1118.9,319.9 1090.4,308.5 1063.7,295.2 1051.6,290.5 1035.9,282.1 1025.4,276.9 1009.7,273.2 994.0,272.7 980.4,271.1 967.8,264.8 959.4,266.4 949.0,262.2 936.4,259.6"/></clipPath><g clip-path="url(#c5)" stroke="#b6eedd" fill="none"><line x1="595.0" y1="326.6" x2="1616.7" y2="-133.1" stroke-width="0.86" stroke-opacity="0.65"/><line x1="597.0" y1="331.1" x2="1618.7" y2="-128.7" stroke-width="1.23" stroke-opacity="0.55"/><line x1="599.0" y1="335.3" x2="1620.6" y2="-124.4" stroke-width="1.21" stroke-opacity="0.43"/><line x1="603.1" y1="344.5" x2="1624.7" y2="-115.2" stroke-width="0.79" stroke-opacity="0.45"/><line x1="607.2" y1="353.6" x2="1628.8" y2="-106.2" stroke-width="1.51" stroke-opacity="0.46"/><line x1="610.0" y1="360.0" x2="1631.7" y2="-99.8" stroke-width="1.32" stroke-opacity="0.76"/><line x1="615.0" y1="371.0" x2="1636.6" y2="-88.7" stroke-width="1.10" stroke-opacity="0.77"/><line x1="616.9" y1="375.1" x2="1638.5" y2="-84.6" stroke-width="1.54" stroke-opacity="0.52"/><line x1="619.3" y1="380.5" x2="1640.9" y2="-79.2" stroke-width="0.83" stroke-opacity="0.53"/><line x1="625.7" y1="394.7" x2="1647.3" y2="-65.1" stroke-width="0.89" stroke-opacity="0.63"/><line x1="631.0" y1="406.5" x2="1652.6" y2="-53.2" stroke-width="1.08" stroke-opacity="0.62"/><line x1="632.9" y1="410.8" x2="1654.6" y2="-48.9" stroke-width="0.78" stroke-opacity="0.49"/><line x1="638.5" y1="423.2" x2="1660.1" y2="-36.5" stroke-width="1.13" stroke-opacity="0.53"/><line x1="643.5" y1="434.4" x2="1665.2" y2="-25.3" stroke-width="1.16" stroke-opacity="0.53"/><line x1="649.8" y1="448.2" x2="1671.4" y2="-11.5" stroke-width="1.39" stroke-opacity="0.51"/><line x1="654.7" y1="459.3" x2="1676.3" y2="-0.5" stroke-width="1.22" stroke-opacity="0.74"/><line x1="660.6" y1="472.3" x2="1682.2" y2="12.5" stroke-width="1.00" stroke-opacity="0.77"/><line x1="662.9" y1="477.3" x2="1684.5" y2="17.6" stroke-width="1.12" stroke-opacity="0.69"/><line x1="665.3" y1="482.8" x2="1686.9" y2="23.1" stroke-width="1.19" stroke-opacity="0.43"/><line x1="670.8" y1="495.0" x2="1692.5" y2="35.3" stroke-width="1.45" stroke-opacity="0.63"/><line x1="677.5" y1="510.0" x2="1699.2" y2="50.2" stroke-width="1.02" stroke-opacity="0.67"/><line x1="682.6" y1="521.2" x2="1704.2" y2="61.5" stroke-width="1.28" stroke-opacity="0.58"/><line x1="689.1" y1="535.7" x2="1710.7" y2="76.0" stroke-width="1.63" stroke-opacity="0.59"/><line x1="694.6" y1="547.9" x2="1716.2" y2="88.1" stroke-width="0.78" stroke-opacity="0.67"/><line x1="700.0" y1="559.8" x2="1721.6" y2="100.1" stroke-width="1.67" stroke-opacity="0.72"/><line x1="703.2" y1="567.0" x2="1724.8" y2="107.3" stroke-width="1.09" stroke-opacity="0.66"/><line x1="704.9" y1="570.8" x2="1726.6" y2="111.1" stroke-width="1.16" stroke-opacity="0.48"/><line x1="707.2" y1="575.9" x2="1728.8" y2="116.2" stroke-width="0.78" stroke-opacity="0.70"/><line x1="709.5" y1="581.1" x2="1731.2" y2="121.4" stroke-width="0.96" stroke-opacity="0.56"/><line x1="716.2" y1="596.0" x2="1737.9" y2="136.2" stroke-width="0.80" stroke-opacity="0.58"/><line x1="721.0" y1="606.6" x2="1742.7" y2="146.9" stroke-width="1.57" stroke-opacity="0.71"/><line x1="727.7" y1="621.4" x2="1749.3" y2="161.7" stroke-width="0.99" stroke-opacity="0.57"/><line x1="731.4" y1="629.6" x2="1753.0" y2="169.9" stroke-width="1.57" stroke-opacity="0.76"/><line x1="733.8" y1="635.1" x2="1755.5" y2="175.3" stroke-width="0.89" stroke-opacity="0.50"/><line x1="736.8" y1="641.6" x2="1758.4" y2="181.9" stroke-width="1.19" stroke-opacity="0.63"/><line x1="739.9" y1="648.6" x2="1761.5" y2="188.8" stroke-width="0.72" stroke-opacity="0.57"/><line x1="743.7" y1="656.9" x2="1765.3" y2="197.2" stroke-width="1.26" stroke-opacity="0.76"/></g>
<polygon points="1035.9,219.3 1062.0,201.5 1080.9,199.0 1104.6,210.4 1136.1,179.0 1147.5,188.6 1164.2,195.2 1189.0,199.4 1212.8,207.1 1235.7,222.3 1264.2,229.9 1283.3,231.8 1302.3,237.5 1315.6,248.0 1327.0,249.9 1340.4,250.8 1362.3,253.8 1383.3,254.7 1394.7,263.3 1421.3,271.9 1448.0,276.6 1413.7,329.0 1380.0,320.0 1350.0,313.0 1300.0,298.0 1262.0,280.0 1240.0,262.0 1200.0,258.0 1160.0,252.0 1120.0,246.0 1080.0,240.0 1045.0,238.0" fill="#6ec68c" />
<clipPath id="c6"><polygon points="1035.9,219.3 1062.0,201.5 1080.9,199.0 1104.6,210.4 1136.1,179.0 1147.5,188.6 1164.2,195.2 1189.0,199.4 1212.8,207.1 1235.7,222.3 1264.2,229.9 1283.3,231.8 1302.3,237.5 1315.6,248.0 1327.0,249.9 1340.4,250.8 1362.3,253.8 1383.3,254.7 1394.7,263.3 1421.3,271.9 1448.0,276.6 1413.7,329.0 1380.0,320.0 1350.0,313.0 1300.0,298.0 1262.0,280.0 1240.0,262.0 1200.0,258.0 1160.0,252.0 1120.0,246.0 1080.0,240.0 1045.0,238.0"/></clipPath><g clip-path="url(#c6)" stroke="#d6f6cc" fill="none"><line x1="788.0" y1="405.2" x2="1439.9" y2="-181.6" stroke-width="1.64" stroke-opacity="0.47"/><line x1="796.5" y1="414.6" x2="1448.4" y2="-172.2" stroke-width="0.80" stroke-opacity="0.51"/><line x1="807.5" y1="426.8" x2="1459.4" y2="-159.9" stroke-width="0.92" stroke-opacity="0.65"/><line x1="813.8" y1="433.9" x2="1465.8" y2="-152.9" stroke-width="1.16" stroke-opacity="0.60"/><line x1="817.8" y1="438.3" x2="1469.8" y2="-148.4" stroke-width="1.52" stroke-opacity="0.45"/><line x1="822.2" y1="443.2" x2="1474.2" y2="-143.6" stroke-width="0.74" stroke-opacity="0.52"/><line x1="828.1" y1="449.7" x2="1480.0" y2="-137.0" stroke-width="1.59" stroke-opacity="0.56"/><line x1="831.4" y1="453.4" x2="1483.4" y2="-133.3" stroke-width="0.97" stroke-opacity="0.78"/><line x1="834.3" y1="456.6" x2="1486.3" y2="-130.1" stroke-width="1.32" stroke-opacity="0.56"/><line x1="842.4" y1="465.6" x2="1494.4" y2="-121.1" stroke-width="1.04" stroke-opacity="0.67"/><line x1="849.1" y1="473.0" x2="1501.0" y2="-113.7" stroke-width="1.34" stroke-opacity="0.74"/><line x1="856.5" y1="481.3" x2="1508.4" y2="-105.5" stroke-width="0.86" stroke-opacity="0.44"/><line x1="867.0" y1="493.0" x2="1519.0" y2="-93.7" stroke-width="1.19" stroke-opacity="0.49"/><line x1="877.6" y1="504.8" x2="1529.6" y2="-82.0" stroke-width="1.28" stroke-opacity="0.68"/><line x1="887.6" y1="515.9" x2="1539.6" y2="-70.9" stroke-width="0.99" stroke-opacity="0.55"/><line x1="897.6" y1="527.0" x2="1549.5" y2="-59.8" stroke-width="0.85" stroke-opacity="0.70"/><line x1="900.8" y1="530.5" x2="1552.7" y2="-56.3" stroke-width="1.38" stroke-opacity="0.67"/><line x1="911.4" y1="542.3" x2="1563.3" y2="-44.5" stroke-width="1.53" stroke-opacity="0.60"/><line x1="915.5" y1="546.8" x2="1567.4" y2="-40.0" stroke-width="0.86" stroke-opacity="0.61"/><line x1="922.2" y1="554.3" x2="1574.2" y2="-32.4" stroke-width="0.79" stroke-opacity="0.75"/><line x1="929.0" y1="561.8" x2="1580.9" y2="-24.9" stroke-width="1.39" stroke-opacity="0.50"/><line x1="933.4" y1="566.8" x2="1585.4" y2="-20.0" stroke-width="0.73" stroke-opacity="0.54"/><line x1="938.1" y1="572.0" x2="1590.0" y2="-14.8" stroke-width="1.13" stroke-opacity="0.56"/><line x1="947.7" y1="582.6" x2="1599.6" y2="-4.1" stroke-width="1.58" stroke-opacity="0.48"/><line x1="953.5" y1="589.1" x2="1605.4" y2="2.3" stroke-width="0.88" stroke-opacity="0.66"/><line x1="964.3" y1="601.1" x2="1616.3" y2="14.3" stroke-width="0.91" stroke-opacity="0.70"/><line x1="969.3" y1="606.6" x2="1621.2" y2="19.8" stroke-width="0.73" stroke-opacity="0.70"/><line x1="974.6" y1="612.5" x2="1626.5" y2="25.7" stroke-width="0.88" stroke-opacity="0.58"/><line x1="978.9" y1="617.3" x2="1630.9" y2="30.6" stroke-width="1.11" stroke-opacity="0.58"/><line x1="984.9" y1="624.0" x2="1636.9" y2="37.2" stroke-width="1.28" stroke-opacity="0.52"/><line x1="988.1" y1="627.5" x2="1640.0" y2="40.7" stroke-width="0.80" stroke-opacity="0.46"/><line x1="994.9" y1="635.1" x2="1646.9" y2="48.4" stroke-width="1.07" stroke-opacity="0.71"/><line x1="1001.7" y1="642.6" x2="1653.6" y2="55.8" stroke-width="1.40" stroke-opacity="0.77"/><line x1="1004.6" y1="645.8" x2="1656.5" y2="59.1" stroke-width="0.74" stroke-opacity="0.47"/><line x1="1010.3" y1="652.1" x2="1662.2" y2="65.4" stroke-width="1.27" stroke-opacity="0.69"/><line x1="1015.7" y1="658.1" x2="1667.6" y2="71.4" stroke-width="1.65" stroke-opacity="0.42"/><line x1="1025.3" y1="668.8" x2="1677.2" y2="82.1" stroke-width="0.92" stroke-opacity="0.74"/><line x1="1027.9" y1="671.7" x2="1679.8" y2="85.0" stroke-width="1.65" stroke-opacity="0.69"/><line x1="1038.9" y1="683.9" x2="1690.8" y2="97.2" stroke-width="1.28" stroke-opacity="0.48"/></g>
<polygon points="1050.0,244.0 1126.0,262.0 1165.0,276.0 1165.0,283.0 1126.0,270.0 1050.0,252.0 1036.0,244.0" fill="#45aab8" opacity="0.7"/>
<polygon points="1015.0,230.0 1036.0,222.0 1045.0,238.0 1041.0,243.0 1020.0,242.0" fill="#4aa2d2" opacity="0.8"/>
<polygon points="1240.0,262.0 1262.0,268.0 1275.0,283.0 1262.0,282.0" fill="#47a3c8" opacity="0.7"/>
<polygon points="1339.5,325.2 1364.2,319.5 1383.3,317.6 1413.7,329.0 1430.8,367.1 1411.8,351.8 1392.8,340.4 1373.7,335.7 1360.4,329.0" fill="#4468e2" />
<polygon points="1413.7,329.0 1449.9,277.6 1487.0,415.6 1459.4,399.4 1430.8,367.1" fill="#3b30c4" />
<clipPath id="c7"><polygon points="1413.7,329.0 1449.9,277.6 1487.0,415.6 1459.4,399.4 1430.8,367.1"/></clipPath><g clip-path="url(#c7)" stroke="#b0a8ff" fill="none"><line x1="1451.9" y1="181.5" x2="1549.8" y2="478.3" stroke-width="0.90" stroke-opacity="0.47"/><line x1="1442.1" y1="184.8" x2="1540.0" y2="481.6" stroke-width="0.61" stroke-opacity="0.60"/><line x1="1432.0" y1="188.1" x2="1529.9" y2="484.9" stroke-width="0.66" stroke-opacity="0.62"/><line x1="1424.3" y1="190.6" x2="1522.3" y2="487.4" stroke-width="0.63" stroke-opacity="0.56"/><line x1="1415.9" y1="193.4" x2="1513.9" y2="490.2" stroke-width="0.96" stroke-opacity="0.68"/><line x1="1412.2" y1="194.6" x2="1510.2" y2="491.4" stroke-width="0.79" stroke-opacity="0.46"/><line x1="1405.5" y1="196.8" x2="1503.5" y2="493.6" stroke-width="1.34" stroke-opacity="0.63"/><line x1="1396.5" y1="199.8" x2="1494.5" y2="496.6" stroke-width="0.91" stroke-opacity="0.69"/><line x1="1393.3" y1="200.9" x2="1491.3" y2="497.7" stroke-width="0.83" stroke-opacity="0.66"/><line x1="1384.7" y1="203.7" x2="1482.7" y2="500.5" stroke-width="0.94" stroke-opacity="0.45"/><line x1="1380.1" y1="205.2" x2="1478.0" y2="502.0" stroke-width="0.77" stroke-opacity="0.52"/><line x1="1370.8" y1="208.3" x2="1468.7" y2="505.1" stroke-width="0.76" stroke-opacity="0.74"/><line x1="1360.8" y1="211.6" x2="1458.8" y2="508.4" stroke-width="0.64" stroke-opacity="0.56"/><line x1="1354.3" y1="213.8" x2="1452.2" y2="510.5" stroke-width="0.62" stroke-opacity="0.57"/></g>
<clipPath id="c8"><polygon points="1339.5,325.2 1364.2,319.5 1383.3,317.6 1413.7,329.0 1430.8,367.1 1411.8,351.8 1392.8,340.4 1373.7,335.7 1360.4,329.0"/></clipPath><g clip-path="url(#c8)" stroke="#a8c0ff" fill="none"><line x1="1399.6" y1="229.6" x2="1459.3" y2="428.5" stroke-width="0.94" stroke-opacity="0.52"/><line x1="1394.9" y1="231.0" x2="1454.6" y2="430.0" stroke-width="1.25" stroke-opacity="0.60"/><line x1="1385.7" y1="233.8" x2="1445.4" y2="432.7" stroke-width="0.73" stroke-opacity="0.51"/><line x1="1379.7" y1="235.5" x2="1439.4" y2="434.5" stroke-width="0.80" stroke-opacity="0.64"/><line x1="1367.1" y1="239.3" x2="1426.8" y2="438.3" stroke-width="0.64" stroke-opacity="0.61"/><line x1="1358.4" y1="241.9" x2="1418.1" y2="440.9" stroke-width="0.91" stroke-opacity="0.44"/><line x1="1349.0" y1="244.8" x2="1408.7" y2="443.7" stroke-width="0.97" stroke-opacity="0.56"/><line x1="1339.8" y1="247.5" x2="1399.5" y2="446.5" stroke-width="0.71" stroke-opacity="0.58"/><line x1="1327.3" y1="251.3" x2="1387.0" y2="450.2" stroke-width="1.38" stroke-opacity="0.53"/><line x1="1324.2" y1="252.2" x2="1383.9" y2="451.2" stroke-width="0.60" stroke-opacity="0.39"/><line x1="1312.1" y1="255.8" x2="1371.8" y2="454.8" stroke-width="0.84" stroke-opacity="0.46"/></g>
<polygon points="1051.0,288.5 1136.0,270.0 1136.0,276.5 1063.0,295.5" fill="#fff" />
<polygon points="1164.0,275.0 1200.0,255.5 1240.0,257.5 1279.0,232.5 1285.0,234.5 1240.0,262.0 1210.0,261.0 1172.0,280.5" fill="#fff" />
<line x1="910.5" y1="367.5" x2="912.4" y2="118.6" stroke="#bcbcbc" stroke-width="1.4"/>
<line x1="910.5" y1="367.5" x2="1251.7" y2="482.1" stroke="#a8a8a8" stroke-width="1.6"/>
<line x1="1251.7" y1="482.1" x2="1694.5" y2="394.6" stroke="#a8a8a8" stroke-width="1.6"/>
<line x1="912.4" y1="118.6" x2="902.2" y2="115.2" stroke="#a0a0a0" stroke-width="1.3"/>
<text class="tk" x="899.2" y="118.1" font-size="10" text-anchor="end" style="fill:#5c5c5c">0.08</text>
<line x1="912.1" y1="149.7" x2="901.9" y2="146.3" stroke="#a0a0a0" stroke-width="1.3"/>
<text class="tk" x="898.9" y="149.2" font-size="10" text-anchor="end" style="fill:#5c5c5c">0.06</text>
<line x1="911.9" y1="180.8" x2="901.7" y2="177.4" stroke="#a0a0a0" stroke-width="1.3"/>
<text class="tk" x="898.7" y="180.3" font-size="10" text-anchor="end" style="fill:#5c5c5c">0.04</text>
<line x1="911.7" y1="211.9" x2="901.5" y2="208.4" stroke="#a0a0a0" stroke-width="1.3"/>
<text class="tk" x="898.5" y="211.3" font-size="10" text-anchor="end" style="fill:#5c5c5c">0.02</text>
<line x1="911.4" y1="243.0" x2="901.2" y2="239.5" stroke="#a0a0a0" stroke-width="1.3"/>
<text class="tk" x="898.2" y="242.4" font-size="10" text-anchor="end" style="fill:#5c5c5c">0</text>
<line x1="911.2" y1="274.1" x2="901.0" y2="270.7" stroke="#a0a0a0" stroke-width="1.3"/>
<text class="tk" x="898.0" y="273.6" font-size="10" text-anchor="end" style="fill:#5c5c5c">-0.02</text>
<line x1="911.0" y1="305.2" x2="900.8" y2="301.8" stroke="#a0a0a0" stroke-width="1.3"/>
<text class="tk" x="897.8" y="304.7" font-size="10" text-anchor="end" style="fill:#5c5c5c">-0.04</text>
<line x1="910.8" y1="336.4" x2="900.6" y2="332.9" stroke="#a0a0a0" stroke-width="1.3"/>
<text class="tk" x="897.6" y="335.8" font-size="10" text-anchor="end" style="fill:#5c5c5c">-0.06</text>
<line x1="910.5" y1="367.5" x2="900.3" y2="364.1" stroke="#a0a0a0" stroke-width="1.3"/>
<text class="tk" x="897.3" y="367.0" font-size="10" text-anchor="end" style="fill:#5c5c5c">-0.08</text>
<line x1="910.5" y1="367.5" x2="902.1" y2="369.2" stroke="#a0a0a0" stroke-width="1.3"/>
<text class="tk" x="897.1" y="379.7" font-size="9.0" text-anchor="end" style="fill:#3c3c3c">2018/1</text>
<line x1="944.6" y1="379.0" x2="936.1" y2="380.6" stroke="#a0a0a0" stroke-width="1.3"/>
<text class="tk" x="931.1" y="391.1" font-size="9.0" text-anchor="end" style="fill:#3c3c3c">2018/7</text>
<line x1="978.6" y1="390.4" x2="970.2" y2="392.1" stroke="#a0a0a0" stroke-width="1.3"/>
<text class="tk" x="965.2" y="402.6" font-size="9.0" text-anchor="end" style="fill:#3c3c3c">2019/1</text>
<line x1="1012.7" y1="401.8" x2="1004.3" y2="403.5" stroke="#a0a0a0" stroke-width="1.3"/>
<text class="tk" x="999.3" y="414.0" font-size="9.0" text-anchor="end" style="fill:#3c3c3c">2019/7</text>
<line x1="1046.8" y1="413.3" x2="1038.3" y2="415.0" stroke="#a0a0a0" stroke-width="1.3"/>
<text class="tk" x="1033.3" y="425.5" font-size="9.0" text-anchor="end" style="fill:#3c3c3c">2020/1</text>
<line x1="1080.9" y1="424.7" x2="1072.4" y2="426.4" stroke="#a0a0a0" stroke-width="1.3"/>
<text class="tk" x="1067.4" y="436.9" font-size="9.0" text-anchor="end" style="fill:#3c3c3c">2020/7</text>
<line x1="1115.0" y1="436.2" x2="1106.6" y2="437.9" stroke="#a0a0a0" stroke-width="1.3"/>
<text class="tk" x="1101.6" y="448.4" font-size="9.0" text-anchor="end" style="fill:#3c3c3c">2021/1</text>
<line x1="1149.2" y1="447.7" x2="1140.7" y2="449.3" stroke="#a0a0a0" stroke-width="1.3"/>
<text class="tk" x="1135.7" y="459.8" font-size="9.0" text-anchor="end" style="fill:#3c3c3c">2021/7</text>
<line x1="1183.3" y1="459.1" x2="1174.9" y2="460.8" stroke="#a0a0a0" stroke-width="1.3"/>
<text class="tk" x="1169.9" y="471.3" font-size="9.0" text-anchor="end" style="fill:#3c3c3c">2022/1</text>
<line x1="1217.5" y1="470.6" x2="1209.0" y2="472.3" stroke="#a0a0a0" stroke-width="1.3"/>
<text class="tk" x="1204.0" y="482.8" font-size="9.0" text-anchor="end" style="fill:#3c3c3c">2022/7</text>
<line x1="1251.7" y1="482.1" x2="1243.2" y2="483.8" stroke="#a0a0a0" stroke-width="1.3"/>
<text class="tk" x="1238.2" y="494.3" font-size="9.0" text-anchor="end" style="fill:#3c3c3c">2023/1</text>
<line x1="1251.7" y1="482.1" x2="1263.3" y2="486.0" stroke="#a0a0a0" stroke-width="1.3"/>
<text class="tk" x="1265.9" y="496.2" font-size="9.6" style="fill:#3c3c3c">12</text>
<line x1="1325.8" y1="467.4" x2="1337.4" y2="471.3" stroke="#a0a0a0" stroke-width="1.3"/>
<text class="tk" x="1340.0" y="481.5" font-size="9.6" style="fill:#3c3c3c">10</text>
<line x1="1399.7" y1="452.8" x2="1411.3" y2="456.7" stroke="#a0a0a0" stroke-width="1.3"/>
<text class="tk" x="1413.9" y="466.9" font-size="9.6" style="fill:#3c3c3c">8</text>
<line x1="1473.6" y1="438.2" x2="1485.2" y2="442.1" stroke="#a0a0a0" stroke-width="1.3"/>
<text class="tk" x="1487.8" y="452.3" font-size="9.6" style="fill:#3c3c3c">6</text>
<line x1="1547.3" y1="423.7" x2="1558.9" y2="427.6" stroke="#a0a0a0" stroke-width="1.3"/>
<text class="tk" x="1561.5" y="437.8" font-size="9.6" style="fill:#3c3c3c">4</text>
<line x1="1621.0" y1="409.1" x2="1632.6" y2="413.0" stroke="#a0a0a0" stroke-width="1.3"/>
<text class="tk" x="1635.2" y="423.2" font-size="9.6" style="fill:#3c3c3c">2</text>
<line x1="1694.5" y1="394.6" x2="1706.1" y2="398.5" stroke="#a0a0a0" stroke-width="1.3"/>
<text class="tk" x="1708.7" y="408.7" font-size="9.6" style="fill:#3c3c3c">0</text>
<polygon points="916.9,890.2 918.0,642.6 1355.9,558.2 1355.4,804.3" fill="#fff"/>
<polygon points="1355.4,804.3 1355.9,558.2 1692.3,669.4 1692.3,916.6" fill="#fff"/>
<polygon points="916.9,890.2 1355.4,804.3 1692.3,916.6 1253.8,1003.5" fill="#fff"/>
<line x1="916.9" y1="890.2" x2="1355.4" y2="804.3" stroke="#efefef" stroke-width="1.4"/>
<line x1="1355.4" y1="804.3" x2="1692.3" y2="916.6" stroke="#efefef" stroke-width="1.4"/>
<line x1="917.1" y1="854.8" x2="1355.5" y2="769.1" stroke="#efefef" stroke-width="1.4"/>
<line x1="1355.5" y1="769.1" x2="1692.3" y2="881.3" stroke="#efefef" stroke-width="1.4"/>
<line x1="917.2" y1="819.4" x2="1355.6" y2="733.9" stroke="#efefef" stroke-width="1.4"/>
<line x1="1355.6" y1="733.9" x2="1692.3" y2="845.9" stroke="#efefef" stroke-width="1.4"/>
<line x1="917.4" y1="784.0" x2="1355.6" y2="698.8" stroke="#efefef" stroke-width="1.4"/>
<line x1="1355.6" y1="698.8" x2="1692.3" y2="810.6" stroke="#efefef" stroke-width="1.4"/>
<line x1="917.5" y1="748.6" x2="1355.7" y2="663.6" stroke="#efefef" stroke-width="1.4"/>
<line x1="1355.7" y1="663.6" x2="1692.3" y2="775.3" stroke="#efefef" stroke-width="1.4"/>
<line x1="917.7" y1="713.3" x2="1355.8" y2="628.5" stroke="#efefef" stroke-width="1.4"/>
<line x1="1355.8" y1="628.5" x2="1692.3" y2="740.0" stroke="#efefef" stroke-width="1.4"/>
<line x1="917.8" y1="678.0" x2="1355.9" y2="593.4" stroke="#efefef" stroke-width="1.4"/>
<line x1="1355.9" y1="593.4" x2="1692.3" y2="704.7" stroke="#efefef" stroke-width="1.4"/>
<line x1="918.0" y1="642.6" x2="1355.9" y2="558.2" stroke="#efefef" stroke-width="1.4"/>
<line x1="1355.9" y1="558.2" x2="1692.3" y2="669.4" stroke="#efefef" stroke-width="1.4"/>
<line x1="1355.4" y1="804.3" x2="1355.9" y2="558.2" stroke="#efefef" stroke-width="1.4"/>
<line x1="1355.4" y1="804.3" x2="916.9" y2="890.2" stroke="#efefef" stroke-width="1.4"/>
<line x1="1389.0" y1="815.5" x2="1389.4" y2="569.3" stroke="#efefef" stroke-width="1.4"/>
<line x1="1389.0" y1="815.5" x2="950.5" y2="901.4" stroke="#efefef" stroke-width="1.4"/>
<line x1="1422.6" y1="826.7" x2="1423.0" y2="580.4" stroke="#efefef" stroke-width="1.4"/>
<line x1="1422.6" y1="826.7" x2="984.0" y2="912.7" stroke="#efefef" stroke-width="1.4"/>
<line x1="1456.2" y1="837.9" x2="1456.5" y2="591.5" stroke="#efefef" stroke-width="1.4"/>
<line x1="1456.2" y1="837.9" x2="1017.7" y2="924.0" stroke="#efefef" stroke-width="1.4"/>
<line x1="1489.9" y1="849.1" x2="1490.1" y2="602.6" stroke="#efefef" stroke-width="1.4"/>
<line x1="1489.9" y1="849.1" x2="1051.3" y2="935.4" stroke="#efefef" stroke-width="1.4"/>
<line x1="1523.5" y1="860.4" x2="1523.8" y2="613.7" stroke="#efefef" stroke-width="1.4"/>
<line x1="1523.5" y1="860.4" x2="1085.0" y2="946.7" stroke="#efefef" stroke-width="1.4"/>
<line x1="1557.2" y1="871.6" x2="1557.4" y2="624.8" stroke="#efefef" stroke-width="1.4"/>
<line x1="1557.2" y1="871.6" x2="1118.7" y2="958.0" stroke="#efefef" stroke-width="1.4"/>
<line x1="1590.9" y1="882.8" x2="1591.1" y2="636.0" stroke="#efefef" stroke-width="1.4"/>
<line x1="1590.9" y1="882.8" x2="1152.4" y2="969.4" stroke="#efefef" stroke-width="1.4"/>
<line x1="1624.7" y1="894.1" x2="1624.8" y2="647.1" stroke="#efefef" stroke-width="1.4"/>
<line x1="1624.7" y1="894.1" x2="1186.2" y2="980.7" stroke="#efefef" stroke-width="1.4"/>
<line x1="1658.5" y1="905.4" x2="1658.5" y2="658.3" stroke="#efefef" stroke-width="1.4"/>
<line x1="1658.5" y1="905.4" x2="1220.0" y2="992.1" stroke="#efefef" stroke-width="1.4"/>
<line x1="1692.3" y1="916.6" x2="1692.3" y2="669.4" stroke="#efefef" stroke-width="1.4"/>
<line x1="1692.3" y1="916.6" x2="1253.8" y2="1003.5" stroke="#efefef" stroke-width="1.4"/>
<line x1="1355.4" y1="804.3" x2="1355.9" y2="558.2" stroke="#efefef" stroke-width="1.4"/>
<line x1="1355.4" y1="804.3" x2="1692.3" y2="916.6" stroke="#efefef" stroke-width="1.4"/>
<line x1="1282.7" y1="818.6" x2="1283.3" y2="572.2" stroke="#efefef" stroke-width="1.4"/>
<line x1="1282.7" y1="818.6" x2="1619.5" y2="931.0" stroke="#efefef" stroke-width="1.4"/>
<line x1="1209.8" y1="832.8" x2="1210.5" y2="586.3" stroke="#efefef" stroke-width="1.4"/>
<line x1="1209.8" y1="832.8" x2="1546.6" y2="945.5" stroke="#efefef" stroke-width="1.4"/>
<line x1="1136.8" y1="847.1" x2="1137.5" y2="600.3" stroke="#efefef" stroke-width="1.4"/>
<line x1="1136.8" y1="847.1" x2="1473.6" y2="959.9" stroke="#efefef" stroke-width="1.4"/>
<line x1="1063.6" y1="861.4" x2="1064.5" y2="614.4" stroke="#efefef" stroke-width="1.4"/>
<line x1="1063.6" y1="861.4" x2="1400.5" y2="974.4" stroke="#efefef" stroke-width="1.4"/>
<line x1="990.3" y1="875.8" x2="991.3" y2="628.5" stroke="#efefef" stroke-width="1.4"/>
<line x1="990.3" y1="875.8" x2="1327.2" y2="988.9" stroke="#efefef" stroke-width="1.4"/>
<line x1="916.9" y1="890.2" x2="918.0" y2="642.6" stroke="#efefef" stroke-width="1.4"/>
<line x1="916.9" y1="890.2" x2="1253.8" y2="1003.5" stroke="#efefef" stroke-width="1.4"/>
<defs><linearGradient id="byd" x1="1377" y1="0" x2="1486" y2="0" gradientUnits="userSpaceOnUse"><stop offset="0" stop-color="#eec356"/><stop offset="0.3" stop-color="#f2e34c"/><stop offset="0.55" stop-color="#f4f045"/><stop offset="0.72" stop-color="#f0d452"/><stop offset="0.85" stop-color="#ecc158"/><stop offset="1" stop-color="#e9b95a"/></linearGradient><linearGradient id="bind" x1="1570" y1="0" x2="1630" y2="0" gradientUnits="userSpaceOnUse"><stop offset="0" stop-color="#4366e2"/><stop offset="0.45" stop-color="#3b36c9"/><stop offset="0.8" stop-color="#4b4fd6"/><stop offset="1" stop-color="#6a7ae8"/></linearGradient><linearGradient id="bA" x1="1180" y1="0" x2="1281" y2="0" gradientUnits="userSpaceOnUse"><stop offset="0" stop-color="#c9c45a"/><stop offset="0.5" stop-color="#d2c65a"/><stop offset="1" stop-color="#b2c966"/></linearGradient><linearGradient id="bF" x1="1182" y1="0" x2="1296" y2="0" gradientUnits="userSpaceOnUse"><stop offset="0" stop-color="#9fcb70"/><stop offset="0.45" stop-color="#c6c862"/><stop offset="0.8" stop-color="#e2c162"/><stop offset="1" stop-color="#c8c866"/></linearGradient><linearGradient id="bE" x1="1511" y1="0" x2="1596" y2="0" gradientUnits="userSpaceOnUse"><stop offset="0" stop-color="#b8c962"/><stop offset="0.3" stop-color="#e4bf5c"/><stop offset="1" stop-color="#e8b95c"/></linearGradient></defs>
<polygon points="920.5,742.0 942.3,746.9 971.4,738.8 991.6,741.2 1028.7,706.6 1043.6,711.5 1063.4,721.4 1073.3,726.4 1078.2,723.9 1103.0,699.2 1120.3,711.5 1127.7,714.0 1164.8,689.3 1172.2,699.2 1179.6,704.1 1211.8,646.0 1231.6,650.9 1256.3,671.9 1263.7,670.7 1281.1,690.0 1290.0,661.7 1315.7,651.4 1351.7,643.7 1387.6,669.4 1426.2,614.1 1433.9,618.0 1444.1,646.2 1469.8,651.4 1477.5,654.0 1485.2,677.1 1490.4,684.8 1509.7,668.1 1516.1,702.8 1541.8,691.2 1572.6,710.5 1595.7,728.5 1621.4,779.8 1631.7,797.8 1644.5,747.7 1667.6,761.9 1665.1,767.0 1634.2,797.8 1629.1,800.4 1621.4,831.2 1613.7,858.2 1598.3,820.9 1585.4,800.4 1580.3,803.0 1570.0,774.7 1559.7,777.3 1536.6,777.3 1503.2,800.4 1469.8,823.5 1444.1,849.2 1374.8,826.0 1323.4,838.9 1290.0,831.2 1263.9,867.5 1231.7,857.6 1199.5,842.8 1168.5,833.4 1150.0,830.4 1134.6,830.0 1117.7,823.3 1095.7,819.9 1088.9,808.9 1066.9,803.0 1057.2,798.6 1044.2,788.9 1031.3,785.7 1015.1,777.6 990.9,769.5 965.0,763.1 953.7,757.4 935.9,759.0" fill="#69c5a6" />
<clipPath id="c9"><polygon points="920.5,742.0 942.3,746.9 971.4,738.8 991.6,741.2 1028.7,706.6 1043.6,711.5 1063.4,721.4 1073.3,726.4 1078.2,723.9 1103.0,699.2 1120.3,711.5 1127.7,714.0 1164.8,689.3 1172.2,699.2 1179.6,704.1 1211.8,646.0 1231.6,650.9 1256.3,671.9 1263.7,670.7 1281.1,690.0 1290.0,661.7 1315.7,651.4 1351.7,643.7 1387.6,669.4 1426.2,614.1 1433.9,618.0 1444.1,646.2 1469.8,651.4 1477.5,654.0 1485.2,677.1 1490.4,684.8 1509.7,668.1 1516.1,702.8 1541.8,691.2 1572.6,710.5 1595.7,728.5 1621.4,779.8 1631.7,797.8 1644.5,747.7 1667.6,761.9 1665.1,767.0 1634.2,797.8 1629.1,800.4 1621.4,831.2 1613.7,858.2 1598.3,820.9 1585.4,800.4 1580.3,803.0 1570.0,774.7 1559.7,777.3 1536.6,777.3 1503.2,800.4 1469.8,823.5 1444.1,849.2 1374.8,826.0 1323.4,838.9 1290.0,831.2 1263.9,867.5 1231.7,857.6 1199.5,842.8 1168.5,833.4 1150.0,830.4 1134.6,830.0 1117.7,823.3 1095.7,819.9 1088.9,808.9 1066.9,803.0 1057.2,798.6 1044.2,788.9 1031.3,785.7 1015.1,777.6 990.9,769.5 965.0,763.1 953.7,757.4 935.9,759.0"/></clipPath><g clip-path="url(#c9)" stroke="#d4f7ea" fill="none"><line x1="463.0" y1="866.8" x2="1845.5" y2="106.5" stroke-width="1.27" stroke-opacity="0.54"/><line x1="465.8" y1="872.0" x2="1848.3" y2="111.6" stroke-width="0.85" stroke-opacity="0.59"/><line x1="469.9" y1="879.3" x2="1852.4" y2="118.9" stroke-width="1.11" stroke-opacity="0.50"/><line x1="471.8" y1="882.8" x2="1854.3" y2="122.4" stroke-width="0.66" stroke-opacity="0.46"/><line x1="475.0" y1="888.6" x2="1857.5" y2="128.2" stroke-width="0.72" stroke-opacity="0.59"/><line x1="476.9" y1="892.0" x2="1859.4" y2="131.7" stroke-width="0.86" stroke-opacity="0.36"/><line x1="481.6" y1="900.7" x2="1864.1" y2="140.3" stroke-width="1.31" stroke-opacity="0.61"/><line x1="485.0" y1="906.7" x2="1867.5" y2="146.4" stroke-width="0.69" stroke-opacity="0.45"/><line x1="487.8" y1="912.0" x2="1870.4" y2="151.6" stroke-width="0.76" stroke-opacity="0.64"/><line x1="490.2" y1="916.3" x2="1872.7" y2="156.0" stroke-width="0.80" stroke-opacity="0.60"/><line x1="491.7" y1="919.0" x2="1874.2" y2="158.7" stroke-width="1.48" stroke-opacity="0.49"/><line x1="494.8" y1="924.7" x2="1877.3" y2="164.3" stroke-width="0.96" stroke-opacity="0.50"/><line x1="496.5" y1="927.8" x2="1879.0" y2="167.4" stroke-width="0.69" stroke-opacity="0.61"/><line x1="498.4" y1="931.2" x2="1880.9" y2="170.8" stroke-width="1.35" stroke-opacity="0.41"/><line x1="503.1" y1="939.7" x2="1885.6" y2="179.3" stroke-width="1.45" stroke-opacity="0.58"/><line x1="507.0" y1="946.7" x2="1889.5" y2="186.4" stroke-width="1.17" stroke-opacity="0.57"/><line x1="508.4" y1="949.4" x2="1890.9" y2="189.0" stroke-width="1.08" stroke-opacity="0.60"/><line x1="510.2" y1="952.6" x2="1892.7" y2="192.2" stroke-width="1.47" stroke-opacity="0.62"/><line x1="512.7" y1="957.3" x2="1895.3" y2="196.9" stroke-width="0.98" stroke-opacity="0.49"/><line x1="515.2" y1="961.7" x2="1897.7" y2="201.4" stroke-width="1.54" stroke-opacity="0.47"/><line x1="516.3" y1="963.8" x2="1898.8" y2="203.4" stroke-width="0.74" stroke-opacity="0.57"/><line x1="521.1" y1="972.4" x2="1903.6" y2="212.0" stroke-width="1.10" stroke-opacity="0.50"/><line x1="524.1" y1="978.0" x2="1906.7" y2="217.6" stroke-width="1.32" stroke-opacity="0.42"/><line x1="527.5" y1="984.0" x2="1910.0" y2="223.6" stroke-width="1.15" stroke-opacity="0.54"/><line x1="529.1" y1="987.1" x2="1911.6" y2="226.7" stroke-width="0.81" stroke-opacity="0.45"/><line x1="533.6" y1="995.2" x2="1916.1" y2="234.9" stroke-width="0.97" stroke-opacity="0.53"/><line x1="535.8" y1="999.2" x2="1918.3" y2="238.8" stroke-width="0.75" stroke-opacity="0.37"/><line x1="539.9" y1="1006.6" x2="1922.4" y2="246.2" stroke-width="1.34" stroke-opacity="0.46"/><line x1="543.5" y1="1013.1" x2="1926.0" y2="252.7" stroke-width="1.25" stroke-opacity="0.62"/><line x1="548.1" y1="1021.5" x2="1930.6" y2="261.1" stroke-width="1.02" stroke-opacity="0.65"/><line x1="552.7" y1="1029.9" x2="1935.2" y2="269.5" stroke-width="1.18" stroke-opacity="0.61"/><line x1="555.6" y1="1035.1" x2="1938.1" y2="274.7" stroke-width="0.99" stroke-opacity="0.42"/><line x1="559.9" y1="1042.9" x2="1942.4" y2="282.5" stroke-width="0.80" stroke-opacity="0.37"/><line x1="563.9" y1="1050.3" x2="1946.4" y2="289.9" stroke-width="1.34" stroke-opacity="0.49"/><line x1="568.1" y1="1057.8" x2="1950.6" y2="297.4" stroke-width="0.71" stroke-opacity="0.43"/><line x1="570.2" y1="1061.6" x2="1952.7" y2="301.3" stroke-width="1.03" stroke-opacity="0.40"/><line x1="571.4" y1="1064.0" x2="1953.9" y2="303.6" stroke-width="0.96" stroke-opacity="0.62"/><line x1="576.1" y1="1072.5" x2="1958.6" y2="312.1" stroke-width="1.32" stroke-opacity="0.49"/><line x1="578.1" y1="1076.1" x2="1960.6" y2="315.7" stroke-width="1.50" stroke-opacity="0.51"/><line x1="581.8" y1="1082.9" x2="1964.4" y2="322.5" stroke-width="0.68" stroke-opacity="0.41"/><line x1="586.0" y1="1090.5" x2="1968.5" y2="330.1" stroke-width="1.36" stroke-opacity="0.61"/><line x1="589.3" y1="1096.4" x2="1971.8" y2="336.0" stroke-width="1.03" stroke-opacity="0.52"/><line x1="593.5" y1="1104.1" x2="1976.0" y2="343.7" stroke-width="0.93" stroke-opacity="0.51"/><line x1="595.5" y1="1107.8" x2="1978.0" y2="347.4" stroke-width="1.34" stroke-opacity="0.35"/><line x1="599.1" y1="1114.3" x2="1981.6" y2="353.9" stroke-width="1.50" stroke-opacity="0.36"/><line x1="602.4" y1="1120.2" x2="1984.9" y2="359.8" stroke-width="1.23" stroke-opacity="0.61"/><line x1="605.6" y1="1126.0" x2="1988.1" y2="365.7" stroke-width="0.89" stroke-opacity="0.47"/><line x1="610.2" y1="1134.4" x2="1992.7" y2="374.1" stroke-width="1.46" stroke-opacity="0.39"/><line x1="611.6" y1="1136.9" x2="1994.1" y2="376.5" stroke-width="0.74" stroke-opacity="0.36"/><line x1="614.3" y1="1141.8" x2="1996.8" y2="381.4" stroke-width="0.78" stroke-opacity="0.61"/><line x1="617.7" y1="1148.1" x2="2000.2" y2="387.8" stroke-width="0.77" stroke-opacity="0.51"/><line x1="620.0" y1="1152.2" x2="2002.5" y2="391.8" stroke-width="1.09" stroke-opacity="0.42"/><line x1="621.6" y1="1155.2" x2="2004.1" y2="394.8" stroke-width="0.82" stroke-opacity="0.46"/><line x1="625.3" y1="1161.9" x2="2007.8" y2="401.5" stroke-width="1.14" stroke-opacity="0.36"/><line x1="629.0" y1="1168.6" x2="2011.5" y2="408.2" stroke-width="1.43" stroke-opacity="0.58"/><line x1="632.9" y1="1175.8" x2="2015.4" y2="415.4" stroke-width="0.67" stroke-opacity="0.49"/><line x1="634.2" y1="1178.1" x2="2016.7" y2="417.7" stroke-width="1.33" stroke-opacity="0.40"/><line x1="637.9" y1="1184.8" x2="2020.4" y2="424.4" stroke-width="0.88" stroke-opacity="0.56"/><line x1="640.1" y1="1188.8" x2="2022.6" y2="428.4" stroke-width="0.70" stroke-opacity="0.47"/><line x1="642.3" y1="1192.7" x2="2024.8" y2="432.3" stroke-width="1.45" stroke-opacity="0.44"/><line x1="645.2" y1="1198.0" x2="2027.7" y2="437.6" stroke-width="1.14" stroke-opacity="0.63"/><line x1="646.5" y1="1200.5" x2="2029.0" y2="440.1" stroke-width="1.19" stroke-opacity="0.50"/><line x1="650.3" y1="1207.4" x2="2032.8" y2="447.0" stroke-width="1.51" stroke-opacity="0.44"/><line x1="654.0" y1="1214.0" x2="2036.5" y2="453.6" stroke-width="1.12" stroke-opacity="0.52"/><line x1="655.2" y1="1216.3" x2="2037.7" y2="455.9" stroke-width="1.38" stroke-opacity="0.64"/><line x1="657.5" y1="1220.5" x2="2040.1" y2="460.2" stroke-width="0.94" stroke-opacity="0.65"/><line x1="659.0" y1="1223.1" x2="2041.5" y2="462.7" stroke-width="0.73" stroke-opacity="0.37"/><line x1="663.0" y1="1230.5" x2="2045.5" y2="470.1" stroke-width="1.33" stroke-opacity="0.48"/><line x1="666.4" y1="1236.6" x2="2048.9" y2="476.2" stroke-width="0.68" stroke-opacity="0.54"/><line x1="669.1" y1="1241.5" x2="2051.6" y2="481.1" stroke-width="1.12" stroke-opacity="0.47"/><line x1="671.6" y1="1246.1" x2="2054.1" y2="485.7" stroke-width="0.86" stroke-opacity="0.36"/><line x1="674.2" y1="1250.9" x2="2056.7" y2="490.5" stroke-width="0.88" stroke-opacity="0.56"/><line x1="678.3" y1="1258.3" x2="2060.8" y2="497.9" stroke-width="1.30" stroke-opacity="0.49"/><line x1="680.2" y1="1261.7" x2="2062.7" y2="501.4" stroke-width="1.00" stroke-opacity="0.50"/><line x1="683.6" y1="1267.9" x2="2066.1" y2="507.5" stroke-width="1.51" stroke-opacity="0.38"/><line x1="686.4" y1="1273.0" x2="2068.9" y2="512.6" stroke-width="1.09" stroke-opacity="0.57"/><line x1="690.8" y1="1280.9" x2="2073.3" y2="520.6" stroke-width="1.35" stroke-opacity="0.54"/><line x1="694.6" y1="1288.0" x2="2077.1" y2="527.6" stroke-width="1.25" stroke-opacity="0.61"/><line x1="698.3" y1="1294.6" x2="2080.8" y2="534.2" stroke-width="1.26" stroke-opacity="0.42"/><line x1="702.7" y1="1302.7" x2="2085.2" y2="542.3" stroke-width="1.00" stroke-opacity="0.53"/><line x1="706.8" y1="1310.2" x2="2089.3" y2="549.8" stroke-width="1.51" stroke-opacity="0.65"/><line x1="707.9" y1="1312.0" x2="2090.4" y2="551.7" stroke-width="0.94" stroke-opacity="0.44"/><line x1="710.4" y1="1316.6" x2="2092.9" y2="556.2" stroke-width="0.79" stroke-opacity="0.52"/><line x1="711.7" y1="1318.9" x2="2094.2" y2="558.6" stroke-width="0.93" stroke-opacity="0.63"/><line x1="715.5" y1="1325.9" x2="2098.0" y2="565.5" stroke-width="1.07" stroke-opacity="0.38"/><line x1="720.1" y1="1334.2" x2="2102.6" y2="573.9" stroke-width="1.28" stroke-opacity="0.41"/><line x1="722.4" y1="1338.4" x2="2104.9" y2="578.0" stroke-width="1.22" stroke-opacity="0.55"/><line x1="724.4" y1="1342.0" x2="2106.9" y2="581.6" stroke-width="1.50" stroke-opacity="0.45"/><line x1="726.3" y1="1345.6" x2="2108.8" y2="585.2" stroke-width="1.40" stroke-opacity="0.40"/><line x1="729.9" y1="1352.1" x2="2112.4" y2="591.7" stroke-width="0.84" stroke-opacity="0.53"/><line x1="731.9" y1="1355.8" x2="2114.4" y2="595.4" stroke-width="0.99" stroke-opacity="0.63"/><line x1="734.7" y1="1360.8" x2="2117.2" y2="600.5" stroke-width="1.04" stroke-opacity="0.54"/><line x1="736.8" y1="1364.6" x2="2119.3" y2="604.2" stroke-width="0.81" stroke-opacity="0.47"/><line x1="738.8" y1="1368.3" x2="2121.3" y2="607.9" stroke-width="0.83" stroke-opacity="0.64"/><line x1="740.0" y1="1370.4" x2="2122.5" y2="610.0" stroke-width="1.37" stroke-opacity="0.63"/></g>
<polyline points="935.9,757.5 953.7,755.9 965.0,761.6 990.9,768.0 1015.1,776.1 1031.3,784.2 1044.2,787.4 1057.2,797.1" fill="none" stroke="#48a9cf" stroke-width="3.5" stroke-opacity="0.75" stroke-linejoin="round"/>
<polyline points="1066.9,801.5 1088.9,807.4 1095.7,818.4 1117.7,821.8 1134.6,828.5 1150.0,828.9 1168.5,831.9 1199.5,841.3 1231.7,856.1 1263.9,866.0 1290.0,829.7 1323.4,837.4 1374.8,824.5 1444.1,847.7" fill="none" stroke="#48a9cf" stroke-width="3.5" stroke-opacity="0.75" stroke-linejoin="round"/>
<polygon points="1000.0,757.0 1060.0,750.0 1110.0,742.0 1180.0,728.0 1230.0,738.0 1180.0,745.0 1110.0,760.0 1060.0,770.0 1010.0,772.0" fill="#4fb0c4" opacity="0.3"/>
<polygon points="991.6,741.2 1028.7,706.6 1043.6,711.5 1063.4,721.4 1073.3,726.4 1058.4,753.6 1021.3,754.8" fill="#90cb78" />
<polygon points="1078.2,723.9 1103.0,699.2 1120.3,711.5 1127.7,714.0 1107.9,748.6 1083.2,738.7" fill="#6fc696" />
<polygon points="1122.7,714.0 1164.8,689.3 1172.2,699.2 1182.1,714.0 1157.4,736.3 1132.6,738.7" fill="#86c981" />
<polygon points="1179.6,704.1 1211.8,646.0 1231.6,650.9 1256.3,671.9 1263.7,670.7 1281.1,694.2 1270.0,715.0 1231.6,736.3 1194.5,723.9" fill="url(#bA)" />
<polygon points="1290.0,661.7 1315.7,651.4 1351.7,643.7 1387.6,669.4 1397.9,702.8 1374.8,702.8 1341.4,738.7 1320.0,730.0 1300.0,700.0" fill="#acc95f" />
<polygon points="1387.6,669.4 1426.2,614.1 1433.9,618.0 1444.1,646.2 1469.8,651.4 1477.5,654.0 1485.2,677.1 1467.3,687.3 1444.1,682.2 1397.9,702.8" fill="#ecbe57" />
<polygon points="1490.4,684.8 1509.7,668.1 1516.1,702.8 1511.0,707.9 1495.0,705.0" fill="#d8e2a8" />
<polygon points="1333.7,759.3 1341.4,738.7 1374.8,702.8 1397.9,702.8 1385.0,715.6 1377.3,733.6 1392.8,764.4 1380.0,775.0 1350.0,770.0" fill="#e2c25c" />
<polygon points="1397.9,702.8 1433.9,684.8 1444.1,682.2 1459.6,680.9 1467.3,687.3 1475.0,707.9 1485.2,728.5 1482.7,754.1 1469.8,779.8 1449.3,795.2 1428.7,790.1 1410.7,785.0 1392.8,764.4 1377.3,733.6 1385.0,715.6" fill="url(#byd)" />
<polygon points="1511.0,707.9 1541.8,691.2 1572.6,710.5 1595.7,728.5 1582.9,743.9 1559.7,777.3 1546.9,777.3 1521.2,743.9" fill="url(#bE)" />
<polygon points="1182.1,780.8 1211.8,761.0 1221.7,768.4 1251.4,763.5 1256.3,770.9 1278.6,761.0 1293.4,788.2 1295.9,808.0 1244.0,825.3 1219.2,808.0 1194.5,793.2" fill="url(#bF)" />
<clipPath id="c10"><polygon points="991.6,741.2 1028.7,706.6 1043.6,711.5 1063.4,721.4 1073.3,726.4 1058.4,753.6 1021.3,754.8"/></clipPath><g clip-path="url(#c10)" stroke="#fff6d0" fill="none"><line x1="954.6" y1="797.8" x2="1039.4" y2="628.1" stroke-width="0.78" stroke-opacity="0.43"/><line x1="966.4" y1="803.7" x2="1051.2" y2="634.0" stroke-width="0.82" stroke-opacity="0.46"/><line x1="974.9" y1="808.0" x2="1059.8" y2="638.3" stroke-width="0.96" stroke-opacity="0.74"/><line x1="979.6" y1="810.3" x2="1064.4" y2="640.6" stroke-width="1.50" stroke-opacity="0.54"/><line x1="987.7" y1="814.4" x2="1072.5" y2="644.7" stroke-width="1.48" stroke-opacity="0.67"/><line x1="998.8" y1="819.9" x2="1083.6" y2="650.2" stroke-width="1.28" stroke-opacity="0.44"/><line x1="1009.5" y1="825.3" x2="1094.3" y2="655.6" stroke-width="1.18" stroke-opacity="0.53"/><line x1="1013.8" y1="827.4" x2="1098.6" y2="657.7" stroke-width="1.41" stroke-opacity="0.63"/><line x1="1025.0" y1="833.0" x2="1109.8" y2="663.3" stroke-width="1.34" stroke-opacity="0.77"/></g>
<clipPath id="c11"><polygon points="1078.2,723.9 1103.0,699.2 1120.3,711.5 1127.7,714.0 1107.9,748.6 1083.2,738.7"/></clipPath><g clip-path="url(#c11)" stroke="#fff6d0" fill="none"><line x1="1048.6" y1="774.9" x2="1111.2" y2="649.8" stroke-width="1.49" stroke-opacity="0.74"/><line x1="1051.9" y1="776.6" x2="1114.4" y2="651.5" stroke-width="1.18" stroke-opacity="0.57"/><line x1="1059.3" y1="780.3" x2="1121.9" y2="655.2" stroke-width="0.77" stroke-opacity="0.49"/><line x1="1066.0" y1="783.6" x2="1128.5" y2="658.5" stroke-width="0.85" stroke-opacity="0.58"/><line x1="1068.7" y1="785.0" x2="1131.3" y2="659.9" stroke-width="0.74" stroke-opacity="0.68"/><line x1="1075.1" y1="788.2" x2="1137.7" y2="663.1" stroke-width="1.11" stroke-opacity="0.68"/><line x1="1081.0" y1="791.1" x2="1143.5" y2="666.0" stroke-width="0.71" stroke-opacity="0.70"/><line x1="1089.0" y1="795.1" x2="1151.5" y2="670.0" stroke-width="1.24" stroke-opacity="0.64"/><line x1="1100.5" y1="800.9" x2="1163.0" y2="675.8" stroke-width="0.98" stroke-opacity="0.69"/></g>
<clipPath id="c12"><polygon points="1122.7,714.0 1164.8,689.3 1172.2,699.2 1182.1,714.0 1157.4,736.3 1132.6,738.7"/></clipPath><g clip-path="url(#c12)" stroke="#fff6d0" fill="none"><line x1="1088.3" y1="768.3" x2="1157.4" y2="630.1" stroke-width="1.22" stroke-opacity="0.71"/><line x1="1093.4" y1="770.9" x2="1162.5" y2="632.7" stroke-width="1.23" stroke-opacity="0.74"/><line x1="1104.3" y1="776.3" x2="1173.4" y2="638.1" stroke-width="0.82" stroke-opacity="0.65"/><line x1="1112.6" y1="780.5" x2="1181.7" y2="642.3" stroke-width="1.10" stroke-opacity="0.77"/><line x1="1120.0" y1="784.2" x2="1189.1" y2="646.0" stroke-width="1.05" stroke-opacity="0.76"/><line x1="1128.4" y1="788.4" x2="1197.5" y2="650.2" stroke-width="0.93" stroke-opacity="0.53"/><line x1="1135.5" y1="791.9" x2="1204.6" y2="653.7" stroke-width="0.71" stroke-opacity="0.64"/><line x1="1144.9" y1="796.6" x2="1214.0" y2="658.4" stroke-width="1.04" stroke-opacity="0.72"/></g>
<clipPath id="c13"><polygon points="1290.0,661.7 1315.7,651.4 1351.7,643.7 1387.6,669.4 1397.9,702.8 1374.8,702.8 1341.4,738.7 1320.0,730.0 1300.0,700.0"/></clipPath><g clip-path="url(#c13)" stroke="#fff6d0" fill="none"><line x1="1217.6" y1="788.7" x2="1346.2" y2="531.6" stroke-width="0.76" stroke-opacity="0.56"/><line x1="1226.5" y1="793.2" x2="1355.0" y2="536.0" stroke-width="0.78" stroke-opacity="0.46"/><line x1="1231.1" y1="795.5" x2="1359.7" y2="538.3" stroke-width="1.33" stroke-opacity="0.47"/><line x1="1240.5" y1="800.2" x2="1369.1" y2="543.0" stroke-width="1.24" stroke-opacity="0.47"/><line x1="1248.0" y1="804.0" x2="1376.6" y2="546.8" stroke-width="1.05" stroke-opacity="0.57"/><line x1="1259.8" y1="809.8" x2="1388.3" y2="552.7" stroke-width="0.74" stroke-opacity="0.43"/><line x1="1271.0" y1="815.5" x2="1399.6" y2="558.3" stroke-width="1.01" stroke-opacity="0.49"/><line x1="1276.6" y1="818.2" x2="1405.2" y2="561.1" stroke-width="0.98" stroke-opacity="0.76"/><line x1="1281.0" y1="820.5" x2="1409.6" y2="563.3" stroke-width="0.85" stroke-opacity="0.63"/><line x1="1288.6" y1="824.3" x2="1417.2" y2="567.1" stroke-width="1.50" stroke-opacity="0.72"/><line x1="1294.5" y1="827.2" x2="1423.0" y2="570.0" stroke-width="0.84" stroke-opacity="0.72"/><line x1="1306.2" y1="833.0" x2="1434.7" y2="575.9" stroke-width="0.69" stroke-opacity="0.68"/><line x1="1316.7" y1="838.3" x2="1445.3" y2="581.2" stroke-width="1.23" stroke-opacity="0.50"/><line x1="1326.7" y1="843.3" x2="1455.2" y2="586.1" stroke-width="1.30" stroke-opacity="0.49"/><line x1="1335.1" y1="847.5" x2="1463.7" y2="590.3" stroke-width="0.85" stroke-opacity="0.43"/><line x1="1340.8" y1="850.3" x2="1469.3" y2="593.2" stroke-width="0.95" stroke-opacity="0.56"/></g>
<clipPath id="c14"><polygon points="1179.6,704.1 1211.8,646.0 1231.6,650.9 1256.3,671.9 1263.7,670.7 1281.1,694.2 1270.0,715.0 1231.6,736.3 1194.5,723.9"/></clipPath><g clip-path="url(#c14)" stroke="#fff6d0" fill="none"><line x1="1116.0" y1="785.9" x2="1237.5" y2="542.9" stroke-width="1.40" stroke-opacity="0.49"/><line x1="1127.8" y1="791.8" x2="1249.3" y2="548.8" stroke-width="0.83" stroke-opacity="0.66"/><line x1="1131.2" y1="793.5" x2="1252.7" y2="550.4" stroke-width="1.33" stroke-opacity="0.47"/><line x1="1140.3" y1="798.0" x2="1261.8" y2="555.0" stroke-width="1.30" stroke-opacity="0.70"/><line x1="1146.9" y1="801.3" x2="1268.4" y2="558.3" stroke-width="1.42" stroke-opacity="0.78"/><line x1="1150.4" y1="803.1" x2="1272.0" y2="560.1" stroke-width="1.11" stroke-opacity="0.76"/><line x1="1159.8" y1="807.8" x2="1281.3" y2="564.8" stroke-width="1.05" stroke-opacity="0.53"/><line x1="1171.2" y1="813.5" x2="1292.7" y2="570.4" stroke-width="0.73" stroke-opacity="0.69"/><line x1="1181.5" y1="818.6" x2="1303.1" y2="575.6" stroke-width="0.80" stroke-opacity="0.54"/><line x1="1186.9" y1="821.3" x2="1308.4" y2="578.3" stroke-width="1.14" stroke-opacity="0.55"/><line x1="1197.7" y1="826.7" x2="1319.2" y2="583.7" stroke-width="1.47" stroke-opacity="0.53"/><line x1="1208.5" y1="832.1" x2="1330.0" y2="589.1" stroke-width="0.72" stroke-opacity="0.45"/><line x1="1217.2" y1="836.5" x2="1338.7" y2="593.5" stroke-width="1.36" stroke-opacity="0.71"/></g>
<clipPath id="c15"><polygon points="1387.6,669.4 1426.2,614.1 1433.9,618.0 1444.1,646.2 1469.8,651.4 1477.5,654.0 1485.2,677.1 1467.3,687.3 1444.1,682.2 1397.9,702.8"/></clipPath><g clip-path="url(#c15)" stroke="#fff6d0" fill="none"><line x1="1326.0" y1="750.7" x2="1443.9" y2="514.8" stroke-width="0.84" stroke-opacity="0.49"/><line x1="1334.1" y1="754.7" x2="1452.0" y2="518.8" stroke-width="0.71" stroke-opacity="0.70"/><line x1="1343.7" y1="759.5" x2="1461.7" y2="523.6" stroke-width="0.70" stroke-opacity="0.67"/><line x1="1350.9" y1="763.1" x2="1468.8" y2="527.2" stroke-width="1.22" stroke-opacity="0.76"/><line x1="1362.6" y1="769.0" x2="1480.5" y2="533.1" stroke-width="1.02" stroke-opacity="0.72"/><line x1="1372.4" y1="773.9" x2="1490.3" y2="538.0" stroke-width="1.52" stroke-opacity="0.43"/><line x1="1383.6" y1="779.5" x2="1501.6" y2="543.6" stroke-width="0.86" stroke-opacity="0.47"/><line x1="1391.7" y1="783.5" x2="1509.6" y2="547.6" stroke-width="1.40" stroke-opacity="0.76"/><line x1="1397.6" y1="786.5" x2="1515.5" y2="550.6" stroke-width="1.39" stroke-opacity="0.43"/><line x1="1409.1" y1="792.2" x2="1527.0" y2="556.3" stroke-width="0.92" stroke-opacity="0.62"/><line x1="1412.7" y1="794.1" x2="1530.7" y2="558.1" stroke-width="0.70" stroke-opacity="0.42"/><line x1="1420.8" y1="798.1" x2="1538.8" y2="562.2" stroke-width="1.15" stroke-opacity="0.71"/><line x1="1431.2" y1="803.3" x2="1549.2" y2="567.4" stroke-width="1.03" stroke-opacity="0.73"/></g>
<clipPath id="c16"><polygon points="1397.9,702.8 1433.9,684.8 1444.1,682.2 1459.6,680.9 1467.3,687.3 1475.0,707.9 1485.2,728.5 1482.7,754.1 1469.8,779.8 1449.3,795.2 1428.7,790.1 1410.7,785.0 1392.8,764.4 1377.3,733.6 1385.0,715.6"/></clipPath><g clip-path="url(#c16)" stroke="#fff6d0" fill="none"><line x1="1299.6" y1="848.0" x2="1440.2" y2="566.8" stroke-width="1.28" stroke-opacity="0.76"/><line x1="1303.9" y1="850.1" x2="1444.5" y2="568.9" stroke-width="0.72" stroke-opacity="0.72"/><line x1="1309.5" y1="852.9" x2="1450.1" y2="571.7" stroke-width="0.99" stroke-opacity="0.71"/><line x1="1313.7" y1="855.0" x2="1454.3" y2="573.8" stroke-width="1.46" stroke-opacity="0.60"/><line x1="1316.9" y1="856.6" x2="1457.5" y2="575.4" stroke-width="1.47" stroke-opacity="0.63"/><line x1="1320.1" y1="858.2" x2="1460.7" y2="577.0" stroke-width="1.40" stroke-opacity="0.70"/><line x1="1329.5" y1="862.9" x2="1470.1" y2="581.7" stroke-width="1.24" stroke-opacity="0.78"/><line x1="1332.1" y1="864.2" x2="1472.7" y2="583.0" stroke-width="1.52" stroke-opacity="0.65"/><line x1="1337.0" y1="866.7" x2="1477.6" y2="585.5" stroke-width="1.20" stroke-opacity="0.54"/><line x1="1345.5" y1="870.9" x2="1486.1" y2="589.8" stroke-width="1.28" stroke-opacity="0.61"/><line x1="1349.0" y1="872.6" x2="1489.6" y2="591.5" stroke-width="1.00" stroke-opacity="0.53"/><line x1="1358.4" y1="877.4" x2="1499.0" y2="596.2" stroke-width="1.48" stroke-opacity="0.70"/><line x1="1365.9" y1="881.1" x2="1506.5" y2="599.9" stroke-width="0.81" stroke-opacity="0.67"/><line x1="1370.8" y1="883.6" x2="1511.4" y2="602.4" stroke-width="1.54" stroke-opacity="0.48"/><line x1="1382.4" y1="889.3" x2="1522.9" y2="608.2" stroke-width="0.67" stroke-opacity="0.70"/><line x1="1388.1" y1="892.2" x2="1528.7" y2="611.0" stroke-width="1.17" stroke-opacity="0.57"/><line x1="1393.5" y1="894.9" x2="1534.0" y2="613.7" stroke-width="1.05" stroke-opacity="0.71"/><line x1="1399.2" y1="897.8" x2="1539.8" y2="616.6" stroke-width="0.98" stroke-opacity="0.70"/><line x1="1403.4" y1="899.9" x2="1544.0" y2="618.7" stroke-width="0.97" stroke-opacity="0.61"/><line x1="1410.7" y1="903.5" x2="1551.3" y2="622.3" stroke-width="0.81" stroke-opacity="0.70"/><line x1="1417.8" y1="907.0" x2="1558.4" y2="625.9" stroke-width="0.74" stroke-opacity="0.54"/><line x1="1420.8" y1="908.6" x2="1561.4" y2="627.4" stroke-width="0.96" stroke-opacity="0.46"/><line x1="1425.7" y1="911.0" x2="1566.3" y2="629.8" stroke-width="1.15" stroke-opacity="0.67"/></g>
<clipPath id="c17"><polygon points="1511.0,707.9 1541.8,691.2 1572.6,710.5 1595.7,728.5 1582.9,743.9 1559.7,777.3 1546.9,777.3 1521.2,743.9"/></clipPath><g clip-path="url(#c17)" stroke="#fff6d0" fill="none"><line x1="1449.0" y1="817.1" x2="1557.1" y2="601.1" stroke-width="0.78" stroke-opacity="0.64"/><line x1="1453.2" y1="819.2" x2="1561.2" y2="603.2" stroke-width="0.78" stroke-opacity="0.59"/><line x1="1459.6" y1="822.4" x2="1567.6" y2="606.4" stroke-width="0.85" stroke-opacity="0.56"/><line x1="1469.9" y1="827.6" x2="1578.0" y2="611.5" stroke-width="0.78" stroke-opacity="0.49"/><line x1="1472.7" y1="829.0" x2="1580.7" y2="612.9" stroke-width="0.87" stroke-opacity="0.45"/><line x1="1484.4" y1="834.8" x2="1592.4" y2="618.7" stroke-width="0.94" stroke-opacity="0.78"/><line x1="1488.1" y1="836.6" x2="1596.1" y2="620.6" stroke-width="1.46" stroke-opacity="0.60"/><line x1="1497.0" y1="841.1" x2="1605.0" y2="625.1" stroke-width="1.24" stroke-opacity="0.52"/><line x1="1501.7" y1="843.4" x2="1609.7" y2="627.4" stroke-width="1.26" stroke-opacity="0.47"/><line x1="1504.3" y1="844.8" x2="1612.3" y2="628.7" stroke-width="1.34" stroke-opacity="0.65"/><line x1="1509.2" y1="847.2" x2="1617.2" y2="631.2" stroke-width="1.12" stroke-opacity="0.75"/><line x1="1514.3" y1="849.8" x2="1622.3" y2="633.7" stroke-width="0.77" stroke-opacity="0.57"/><line x1="1518.4" y1="851.8" x2="1626.4" y2="635.7" stroke-width="0.98" stroke-opacity="0.43"/><line x1="1528.0" y1="856.6" x2="1636.0" y2="640.5" stroke-width="1.37" stroke-opacity="0.55"/><line x1="1534.0" y1="859.6" x2="1642.0" y2="643.6" stroke-width="0.89" stroke-opacity="0.76"/><line x1="1544.7" y1="864.9" x2="1652.7" y2="648.9" stroke-width="1.24" stroke-opacity="0.48"/><line x1="1548.8" y1="867.0" x2="1656.8" y2="650.9" stroke-width="1.34" stroke-opacity="0.49"/></g>
<clipPath id="c18"><polygon points="1182.1,780.8 1211.8,761.0 1221.7,768.4 1251.4,763.5 1256.3,770.9 1278.6,761.0 1293.4,788.2 1295.9,808.0 1244.0,825.3 1219.2,808.0 1194.5,793.2"/></clipPath><g clip-path="url(#c18)" stroke="#fff6d0" fill="none"><line x1="1126.1" y1="882.8" x2="1243.0" y2="649.0" stroke-width="0.96" stroke-opacity="0.72"/><line x1="1131.3" y1="885.4" x2="1248.2" y2="651.6" stroke-width="1.11" stroke-opacity="0.54"/><line x1="1137.6" y1="888.6" x2="1254.6" y2="654.8" stroke-width="1.52" stroke-opacity="0.46"/><line x1="1144.3" y1="891.9" x2="1261.2" y2="658.1" stroke-width="0.86" stroke-opacity="0.55"/><line x1="1156.1" y1="897.8" x2="1273.0" y2="664.0" stroke-width="0.95" stroke-opacity="0.64"/><line x1="1162.5" y1="901.0" x2="1279.4" y2="667.2" stroke-width="1.30" stroke-opacity="0.58"/><line x1="1166.6" y1="903.1" x2="1283.5" y2="669.3" stroke-width="1.04" stroke-opacity="0.57"/><line x1="1176.5" y1="908.0" x2="1293.4" y2="674.2" stroke-width="1.16" stroke-opacity="0.49"/><line x1="1185.2" y1="912.4" x2="1302.1" y2="678.6" stroke-width="0.92" stroke-opacity="0.60"/><line x1="1189.8" y1="914.7" x2="1306.7" y2="680.9" stroke-width="1.02" stroke-opacity="0.70"/><line x1="1197.1" y1="918.3" x2="1314.0" y2="684.5" stroke-width="1.32" stroke-opacity="0.69"/><line x1="1205.0" y1="922.3" x2="1322.0" y2="688.5" stroke-width="1.23" stroke-opacity="0.56"/><line x1="1213.3" y1="926.4" x2="1330.2" y2="692.6" stroke-width="1.34" stroke-opacity="0.46"/><line x1="1224.5" y1="932.0" x2="1341.4" y2="698.2" stroke-width="0.98" stroke-opacity="0.47"/><line x1="1228.4" y1="934.0" x2="1345.3" y2="700.2" stroke-width="0.96" stroke-opacity="0.44"/><line x1="1234.6" y1="937.1" x2="1351.5" y2="703.3" stroke-width="1.03" stroke-opacity="0.66"/></g>
<clipPath id="c19"><polygon points="1333.7,759.3 1341.4,738.7 1374.8,702.8 1397.9,702.8 1385.0,715.6 1377.3,733.6 1392.8,764.4 1380.0,775.0 1350.0,770.0"/></clipPath><g clip-path="url(#c19)" stroke="#fff6d0" fill="none"><line x1="1286.3" y1="807.1" x2="1372.7" y2="634.3" stroke-width="1.18" stroke-opacity="0.72"/><line x1="1297.1" y1="812.6" x2="1383.5" y2="639.7" stroke-width="1.44" stroke-opacity="0.55"/><line x1="1308.5" y1="818.2" x2="1394.9" y2="645.4" stroke-width="1.03" stroke-opacity="0.53"/><line x1="1311.8" y1="819.9" x2="1398.3" y2="647.1" stroke-width="1.11" stroke-opacity="0.48"/><line x1="1316.9" y1="822.5" x2="1403.3" y2="649.6" stroke-width="1.20" stroke-opacity="0.70"/><line x1="1326.4" y1="827.2" x2="1412.8" y2="654.4" stroke-width="0.74" stroke-opacity="0.44"/><line x1="1331.3" y1="829.7" x2="1417.7" y2="656.8" stroke-width="1.15" stroke-opacity="0.72"/><line x1="1341.2" y1="834.6" x2="1427.6" y2="661.8" stroke-width="1.48" stroke-opacity="0.63"/><line x1="1349.7" y1="838.8" x2="1436.1" y2="666.0" stroke-width="0.92" stroke-opacity="0.53"/><line x1="1354.1" y1="841.1" x2="1440.5" y2="668.2" stroke-width="1.13" stroke-opacity="0.64"/><line x1="1361.9" y1="845.0" x2="1448.3" y2="672.1" stroke-width="1.00" stroke-opacity="0.57"/></g>
<polygon points="1374.8,823.5 1413.3,800.4 1433.9,805.5 1444.1,841.5 1439.0,849.2 1397.9,831.2 1379.9,831.2" fill="#4a88de" />
<clipPath id="c20"><polygon points="1374.8,823.5 1413.3,800.4 1433.9,805.5 1444.1,841.5 1439.0,849.2 1397.9,831.2 1379.9,831.2"/></clipPath><g clip-path="url(#c20)" stroke="#a8d0ff" fill="none"><line x1="1413.7" y1="731.8" x2="1476.7" y2="889.2" stroke-width="1.20" stroke-opacity="0.69"/><line x1="1406.9" y1="734.5" x2="1469.8" y2="891.9" stroke-width="0.83" stroke-opacity="0.77"/><line x1="1401.8" y1="736.6" x2="1464.8" y2="894.0" stroke-width="1.20" stroke-opacity="0.69"/><line x1="1394.6" y1="739.5" x2="1457.5" y2="896.9" stroke-width="0.82" stroke-opacity="0.55"/><line x1="1388.6" y1="741.8" x2="1451.6" y2="899.2" stroke-width="1.07" stroke-opacity="0.69"/><line x1="1384.8" y1="743.4" x2="1447.8" y2="900.8" stroke-width="1.36" stroke-opacity="0.42"/><line x1="1378.8" y1="745.8" x2="1441.8" y2="903.2" stroke-width="0.90" stroke-opacity="0.43"/><line x1="1373.1" y1="748.0" x2="1436.1" y2="905.4" stroke-width="0.64" stroke-opacity="0.50"/><line x1="1369.5" y1="749.5" x2="1432.5" y2="906.9" stroke-width="0.73" stroke-opacity="0.48"/><line x1="1367.5" y1="750.3" x2="1430.4" y2="907.7" stroke-width="1.28" stroke-opacity="0.45"/><line x1="1364.9" y1="751.3" x2="1427.8" y2="908.7" stroke-width="0.66" stroke-opacity="0.75"/><line x1="1360.0" y1="753.3" x2="1422.9" y2="910.7" stroke-width="1.26" stroke-opacity="0.77"/><line x1="1355.3" y1="755.2" x2="1418.3" y2="912.5" stroke-width="0.92" stroke-opacity="0.56"/><line x1="1352.1" y1="756.4" x2="1415.1" y2="913.8" stroke-width="1.08" stroke-opacity="0.77"/><line x1="1347.5" y1="758.3" x2="1410.4" y2="915.7" stroke-width="1.21" stroke-opacity="0.74"/><line x1="1340.8" y1="761.0" x2="1403.8" y2="918.4" stroke-width="1.14" stroke-opacity="0.62"/></g>
<polygon points="1500.7,779.8 1521.2,777.3 1521.2,790.1 1503.2,800.4" fill="#4f8fda" />
<polygon points="1306.0,788.3 1328.2,795.0 1328.2,803.2 1310.0,800.0" fill="#5aa0dc" />
<polygon points="1170.0,692.0 1179.6,704.1 1199.5,728.9 1190.0,726.0" fill="#4a9ed8" opacity="0.8"/>
<polygon points="1595.7,728.5 1621.4,779.8 1631.7,797.8 1618.8,797.8 1585.4,754.1" fill="#4ba8d6" />
<clipPath id="c21"><polygon points="1595.7,728.5 1621.4,779.8 1631.7,797.8 1618.8,797.8 1585.4,754.1"/></clipPath><g clip-path="url(#c21)" stroke="#d0f0ff" fill="none"><line x1="1609.1" y1="673.1" x2="1671.0" y2="827.9" stroke-width="0.69" stroke-opacity="0.44"/><line x1="1602.1" y1="676.0" x2="1664.0" y2="830.7" stroke-width="0.90" stroke-opacity="0.57"/><line x1="1599.9" y1="676.9" x2="1661.8" y2="831.6" stroke-width="0.91" stroke-opacity="0.60"/><line x1="1595.1" y1="678.8" x2="1657.0" y2="833.5" stroke-width="1.22" stroke-opacity="0.61"/><line x1="1591.2" y1="680.3" x2="1653.1" y2="835.1" stroke-width="0.54" stroke-opacity="0.58"/><line x1="1588.8" y1="681.3" x2="1650.7" y2="836.0" stroke-width="0.55" stroke-opacity="0.57"/><line x1="1582.1" y1="684.0" x2="1644.0" y2="838.7" stroke-width="1.14" stroke-opacity="0.64"/><line x1="1579.3" y1="685.1" x2="1641.2" y2="839.9" stroke-width="0.60" stroke-opacity="0.39"/><line x1="1571.7" y1="688.1" x2="1633.7" y2="842.9" stroke-width="0.62" stroke-opacity="0.40"/><line x1="1570.0" y1="688.8" x2="1631.9" y2="843.6" stroke-width="0.58" stroke-opacity="0.36"/><line x1="1566.2" y1="690.3" x2="1628.1" y2="845.1" stroke-width="0.66" stroke-opacity="0.44"/><line x1="1559.0" y1="693.2" x2="1620.9" y2="848.0" stroke-width="0.66" stroke-opacity="0.59"/><line x1="1552.9" y1="695.6" x2="1614.8" y2="850.4" stroke-width="0.95" stroke-opacity="0.52"/><line x1="1546.7" y1="698.1" x2="1608.6" y2="852.9" stroke-width="0.96" stroke-opacity="0.42"/></g>
<polygon points="1570.0,759.3 1580.3,759.3 1593.1,779.8 1629.1,800.4 1621.4,831.2 1613.7,858.2 1598.3,820.9 1585.4,800.4 1580.3,803.0 1570.0,774.7" fill="url(#bind)" />
<clipPath id="c22"><polygon points="1570.0,759.3 1580.3,759.3 1593.1,779.8 1629.1,800.4 1621.4,831.2 1613.7,858.2 1598.3,820.9 1585.4,800.4 1580.3,803.0 1570.0,774.7"/></clipPath><g clip-path="url(#c22)" stroke="#b8b8ff" fill="none"><line x1="1604.1" y1="687.1" x2="1670.3" y2="907.8" stroke-width="0.75" stroke-opacity="0.36"/><line x1="1597.2" y1="689.2" x2="1663.4" y2="909.9" stroke-width="0.69" stroke-opacity="0.43"/><line x1="1592.2" y1="690.7" x2="1658.4" y2="911.4" stroke-width="1.00" stroke-opacity="0.65"/><line x1="1586.7" y1="692.3" x2="1652.9" y2="913.0" stroke-width="1.26" stroke-opacity="0.65"/><line x1="1582.9" y1="693.5" x2="1649.1" y2="914.2" stroke-width="0.59" stroke-opacity="0.40"/><line x1="1574.6" y1="695.9" x2="1640.8" y2="916.7" stroke-width="0.97" stroke-opacity="0.63"/><line x1="1565.3" y1="698.7" x2="1631.5" y2="919.4" stroke-width="1.01" stroke-opacity="0.51"/><line x1="1562.8" y1="699.5" x2="1629.0" y2="920.2" stroke-width="0.56" stroke-opacity="0.59"/><line x1="1555.8" y1="701.6" x2="1622.0" y2="922.3" stroke-width="1.09" stroke-opacity="0.52"/><line x1="1548.7" y1="703.7" x2="1615.0" y2="924.4" stroke-width="1.00" stroke-opacity="0.62"/><line x1="1545.9" y1="704.6" x2="1612.1" y2="925.3" stroke-width="0.90" stroke-opacity="0.44"/><line x1="1537.7" y1="707.0" x2="1603.9" y2="927.7" stroke-width="1.17" stroke-opacity="0.43"/><line x1="1535.1" y1="707.8" x2="1601.3" y2="928.5" stroke-width="0.72" stroke-opacity="0.44"/><line x1="1527.3" y1="710.1" x2="1593.5" y2="930.8" stroke-width="0.84" stroke-opacity="0.57"/></g>
<polygon points="1631.7,797.8 1644.5,747.7 1667.6,761.9 1665.1,767.0 1634.2,797.8" fill="#66c898" />
<clipPath id="c23"><polygon points="1631.7,797.8 1644.5,747.7 1667.6,761.9 1665.1,767.0 1634.2,797.8"/></clipPath><g clip-path="url(#c23)" stroke="#d0f6e0" fill="none"><line x1="1599.2" y1="816.4" x2="1654.3" y2="706.2" stroke-width="1.39" stroke-opacity="0.77"/><line x1="1606.1" y1="819.9" x2="1661.2" y2="709.6" stroke-width="1.23" stroke-opacity="0.74"/><line x1="1607.6" y1="820.7" x2="1662.8" y2="710.4" stroke-width="1.10" stroke-opacity="0.51"/><line x1="1613.5" y1="823.6" x2="1668.6" y2="713.3" stroke-width="0.95" stroke-opacity="0.62"/><line x1="1618.2" y1="825.9" x2="1673.3" y2="715.7" stroke-width="1.06" stroke-opacity="0.72"/><line x1="1625.5" y1="829.6" x2="1680.6" y2="719.3" stroke-width="0.88" stroke-opacity="0.71"/><line x1="1632.2" y1="832.9" x2="1687.3" y2="722.7" stroke-width="0.91" stroke-opacity="0.46"/><line x1="1636.6" y1="835.2" x2="1691.8" y2="724.9" stroke-width="1.21" stroke-opacity="0.61"/><line x1="1639.3" y1="836.5" x2="1694.4" y2="726.2" stroke-width="1.16" stroke-opacity="0.54"/><line x1="1646.0" y1="839.8" x2="1701.1" y2="729.6" stroke-width="0.73" stroke-opacity="0.63"/></g>
<polygon points="1112.8,766.0 1142.5,758.5 1128.0,773.4" fill="#d8f2ea" />
<polygon points="1302.8,786.0 1330.0,782.0 1341.4,795.0 1318.0,805.5" fill="#bfe6f0" opacity="0.7"/>
<polygon points="1058.4,797.0 1100.0,786.5 1138.0,780.5 1169.7,772.4 1170.0,777.5 1140.0,786.0 1104.2,791.0 1066.9,803.0" fill="#fff" />
<polygon points="1226.6,767.4 1283.5,748.2 1284.5,752.7 1228.6,771.5" fill="#fff" />
<polygon points="1305.4,748.0 1350.0,724.0 1354.2,726.0 1313.4,751.5" fill="#fff" />
<polygon points="1477.5,687.0 1485.2,677.1 1490.4,684.8 1482.0,694.0" fill="#fff" />
<line x1="916.9" y1="890.2" x2="918.0" y2="642.6" stroke="#bcbcbc" stroke-width="1.4"/>
<line x1="916.9" y1="890.2" x2="1253.8" y2="1003.5" stroke="#a8a8a8" stroke-width="1.6"/>
<line x1="1253.8" y1="1003.5" x2="1692.3" y2="916.6" stroke="#a8a8a8" stroke-width="1.6"/>
<line x1="918.0" y1="642.6" x2="907.9" y2="639.3" stroke="#a0a0a0" stroke-width="1.3"/>
<text class="tk" x="904.9" y="642.2" font-size="10" text-anchor="end" style="fill:#5c5c5c">0.3</text>
<line x1="917.8" y1="678.0" x2="907.8" y2="674.6" stroke="#a0a0a0" stroke-width="1.3"/>
<text class="tk" x="904.8" y="677.5" font-size="10" text-anchor="end" style="fill:#5c5c5c">0.2</text>
<line x1="917.7" y1="713.3" x2="907.6" y2="709.9" stroke="#a0a0a0" stroke-width="1.3"/>
<text class="tk" x="904.6" y="712.8" font-size="10" text-anchor="end" style="fill:#5c5c5c">0.1</text>
<line x1="917.5" y1="748.6" x2="907.5" y2="745.3" stroke="#a0a0a0" stroke-width="1.3"/>
<text class="tk" x="904.5" y="748.2" font-size="10" text-anchor="end" style="fill:#5c5c5c">0</text>
<line x1="917.4" y1="784.0" x2="907.3" y2="780.6" stroke="#a0a0a0" stroke-width="1.3"/>
<text class="tk" x="904.3" y="783.5" font-size="10" text-anchor="end" style="fill:#5c5c5c">-0.1</text>
<line x1="917.2" y1="819.4" x2="907.1" y2="816.0" stroke="#a0a0a0" stroke-width="1.3"/>
<text class="tk" x="904.1" y="818.9" font-size="10" text-anchor="end" style="fill:#5c5c5c">-0.2</text>
<line x1="917.1" y1="854.8" x2="907.0" y2="851.4" stroke="#a0a0a0" stroke-width="1.3"/>
<text class="tk" x="904.0" y="854.3" font-size="10" text-anchor="end" style="fill:#5c5c5c">-0.3</text>
<line x1="916.9" y1="890.2" x2="906.8" y2="886.8" stroke="#a0a0a0" stroke-width="1.3"/>
<text class="tk" x="903.8" y="889.7" font-size="10" text-anchor="end" style="fill:#5c5c5c">-0.4</text>
<line x1="916.9" y1="890.2" x2="908.5" y2="891.8" stroke="#a0a0a0" stroke-width="1.3"/>
<text class="tk" x="903.5" y="902.3" font-size="9.0" text-anchor="end" style="fill:#3c3c3c">2018/1</text>
<line x1="950.5" y1="901.4" x2="942.1" y2="903.1" stroke="#a0a0a0" stroke-width="1.3"/>
<text class="tk" x="937.1" y="913.6" font-size="9.0" text-anchor="end" style="fill:#3c3c3c">2018/7</text>
<line x1="984.0" y1="912.7" x2="975.7" y2="914.4" stroke="#a0a0a0" stroke-width="1.3"/>
<text class="tk" x="970.7" y="924.9" font-size="9.0" text-anchor="end" style="fill:#3c3c3c">2019/1</text>
<line x1="1017.7" y1="924.0" x2="1009.3" y2="925.7" stroke="#a0a0a0" stroke-width="1.3"/>
<text class="tk" x="1004.3" y="936.2" font-size="9.0" text-anchor="end" style="fill:#3c3c3c">2019/7</text>
<line x1="1051.3" y1="935.4" x2="1042.9" y2="937.0" stroke="#a0a0a0" stroke-width="1.3"/>
<text class="tk" x="1037.9" y="947.5" font-size="9.0" text-anchor="end" style="fill:#3c3c3c">2020/1</text>
<line x1="1085.0" y1="946.7" x2="1076.6" y2="948.3" stroke="#a0a0a0" stroke-width="1.3"/>
<text class="tk" x="1071.6" y="958.8" font-size="9.0" text-anchor="end" style="fill:#3c3c3c">2020/7</text>
<line x1="1118.7" y1="958.0" x2="1110.3" y2="959.7" stroke="#a0a0a0" stroke-width="1.3"/>
<text class="tk" x="1105.3" y="970.2" font-size="9.0" text-anchor="end" style="fill:#3c3c3c">2021/1</text>
<line x1="1152.4" y1="969.4" x2="1144.0" y2="971.0" stroke="#a0a0a0" stroke-width="1.3"/>
<text class="tk" x="1139.0" y="981.5" font-size="9.0" text-anchor="end" style="fill:#3c3c3c">2021/7</text>
<line x1="1186.2" y1="980.7" x2="1177.8" y2="982.4" stroke="#a0a0a0" stroke-width="1.3"/>
<text class="tk" x="1172.8" y="992.9" font-size="9.0" text-anchor="end" style="fill:#3c3c3c">2022/1</text>
<line x1="1220.0" y1="992.1" x2="1211.6" y2="993.7" stroke="#a0a0a0" stroke-width="1.3"/>
<text class="tk" x="1206.6" y="1004.2" font-size="9.0" text-anchor="end" style="fill:#3c3c3c">2022/7</text>
<line x1="1253.8" y1="1003.5" x2="1245.4" y2="1005.1" stroke="#a0a0a0" stroke-width="1.3"/>
<text class="tk" x="1240.4" y="1015.6" font-size="9.0" text-anchor="end" style="fill:#3c3c3c">2023/1</text>
<line x1="1253.8" y1="1003.5" x2="1265.3" y2="1007.3" stroke="#a0a0a0" stroke-width="1.3"/>
<text class="tk" x="1267.9" y="1017.5" font-size="9.6" style="fill:#3c3c3c">12</text>
<line x1="1327.2" y1="988.9" x2="1338.7" y2="992.8" stroke="#a0a0a0" stroke-width="1.3"/>
<text class="tk" x="1341.3" y="1003.0" font-size="9.6" style="fill:#3c3c3c">10</text>
<line x1="1400.5" y1="974.4" x2="1412.0" y2="978.3" stroke="#a0a0a0" stroke-width="1.3"/>
<text class="tk" x="1414.6" y="988.5" font-size="9.6" style="fill:#3c3c3c">8</text>
<line x1="1473.6" y1="959.9" x2="1485.1" y2="963.8" stroke="#a0a0a0" stroke-width="1.3"/>
<text class="tk" x="1487.7" y="974.0" font-size="9.6" style="fill:#3c3c3c">6</text>
<line x1="1546.6" y1="945.5" x2="1558.1" y2="949.3" stroke="#a0a0a0" stroke-width="1.3"/>
<text class="tk" x="1560.7" y="959.5" font-size="9.6" style="fill:#3c3c3c">4</text>
<line x1="1619.5" y1="931.0" x2="1631.0" y2="934.9" stroke="#a0a0a0" stroke-width="1.3"/>
<text class="tk" x="1633.6" y="945.1" font-size="9.6" style="fill:#3c3c3c">2</text>
<line x1="1692.3" y1="916.6" x2="1703.8" y2="920.5" stroke="#a0a0a0" stroke-width="1.3"/>
<text class="tk" x="1706.4" y="930.7" font-size="9.6" style="fill:#3c3c3c">0</text>
<text class="sr" x="1015.3" y="455" font-size="16.5" fill="#7b7b7b" textLength="32.2" lengthAdjust="spacingAndGlyphs">date</text>
<text class="sr" x="1453.2" y="468.5" font-size="17.8" fill="#7b7b7b" textLength="109.5" lengthAdjust="spacingAndGlyphs">Lagging period</text>
<text class="sr" x="851.2" y="244.8" font-size="19.5" fill="#7b7b7b" textLength="17.2" lengthAdjust="spacingAndGlyphs">%</text>
<text class="sr" x="1011.5" y="978.5" font-size="21.3" fill="#7b7b7b" textLength="39" lengthAdjust="spacingAndGlyphs">date</text>
<text class="sr" x="1445" y="993.8" font-size="21" fill="#7b7b7b" textLength="134" lengthAdjust="spacingAndGlyphs">Lagging period</text>
<text class="sr" x="860.2" y="751.8" font-size="24" fill="#7b7b7b" textLength="19.2" lengthAdjust="spacingAndGlyphs">%</text>
<text x="1269.5" y="27.8" font-family='"Liberation Serif",serif' font-size="11.5" fill="#5a5a5a" font-style="italic" font-weight="bold">ε</text>
<text x="1274.2" y="29.8" font-family='"Liberation Serif",serif' font-size="8.5" fill="#5a5a5a" font-style="italic" font-weight="bold" textLength="16" lengthAdjust="spacingAndGlyphs">CNY</text>
<text x="1293.6" y="28.4" font-family='"Noto Sans CJK SC",sans-serif' font-size="9.5" fill="#5a5a5a" font-weight="bold">↑</text>
<text x="1302.8" y="28.4" font-family='"Noto Sans CJK SC",sans-serif' font-size="9.5" fill="#5a5a5a" font-weight="bold">→</text>
<text x="1318.6" y="28.1" font-family='"Liberation Serif",serif' font-size="11.5" fill="#5a5a5a" font-style="italic" font-weight="bold" textLength="17.8" lengthAdjust="spacingAndGlyphs">CM</text>
<text x="1275" y="552.6" font-family='"Liberation Serif",serif' font-size="11" fill="#5a5a5a" font-style="italic" font-weight="bold">ε</text>
<text x="1279.5" y="554.5" font-family='"Liberation Serif",serif' font-size="8.2" fill="#5a5a5a" font-style="italic" font-weight="bold" textLength="9" lengthAdjust="spacingAndGlyphs">IR</text>
<text x="1290.5" y="553" font-family='"Noto Sans CJK SC",sans-serif' font-size="9.2" fill="#5a5a5a" font-weight="bold">↑</text>
<text x="1300.2" y="553" font-family='"Noto Sans CJK SC",sans-serif' font-size="9.2" fill="#5a5a5a" font-weight="bold">→</text>
<text x="1315.5" y="552.8" font-family='"Liberation Serif",serif' font-size="12" fill="#5a5a5a" font-style="italic" font-weight="bold" textLength="19.6" lengthAdjust="spacingAndGlyphs">CM</text>
</svg></body></html>
